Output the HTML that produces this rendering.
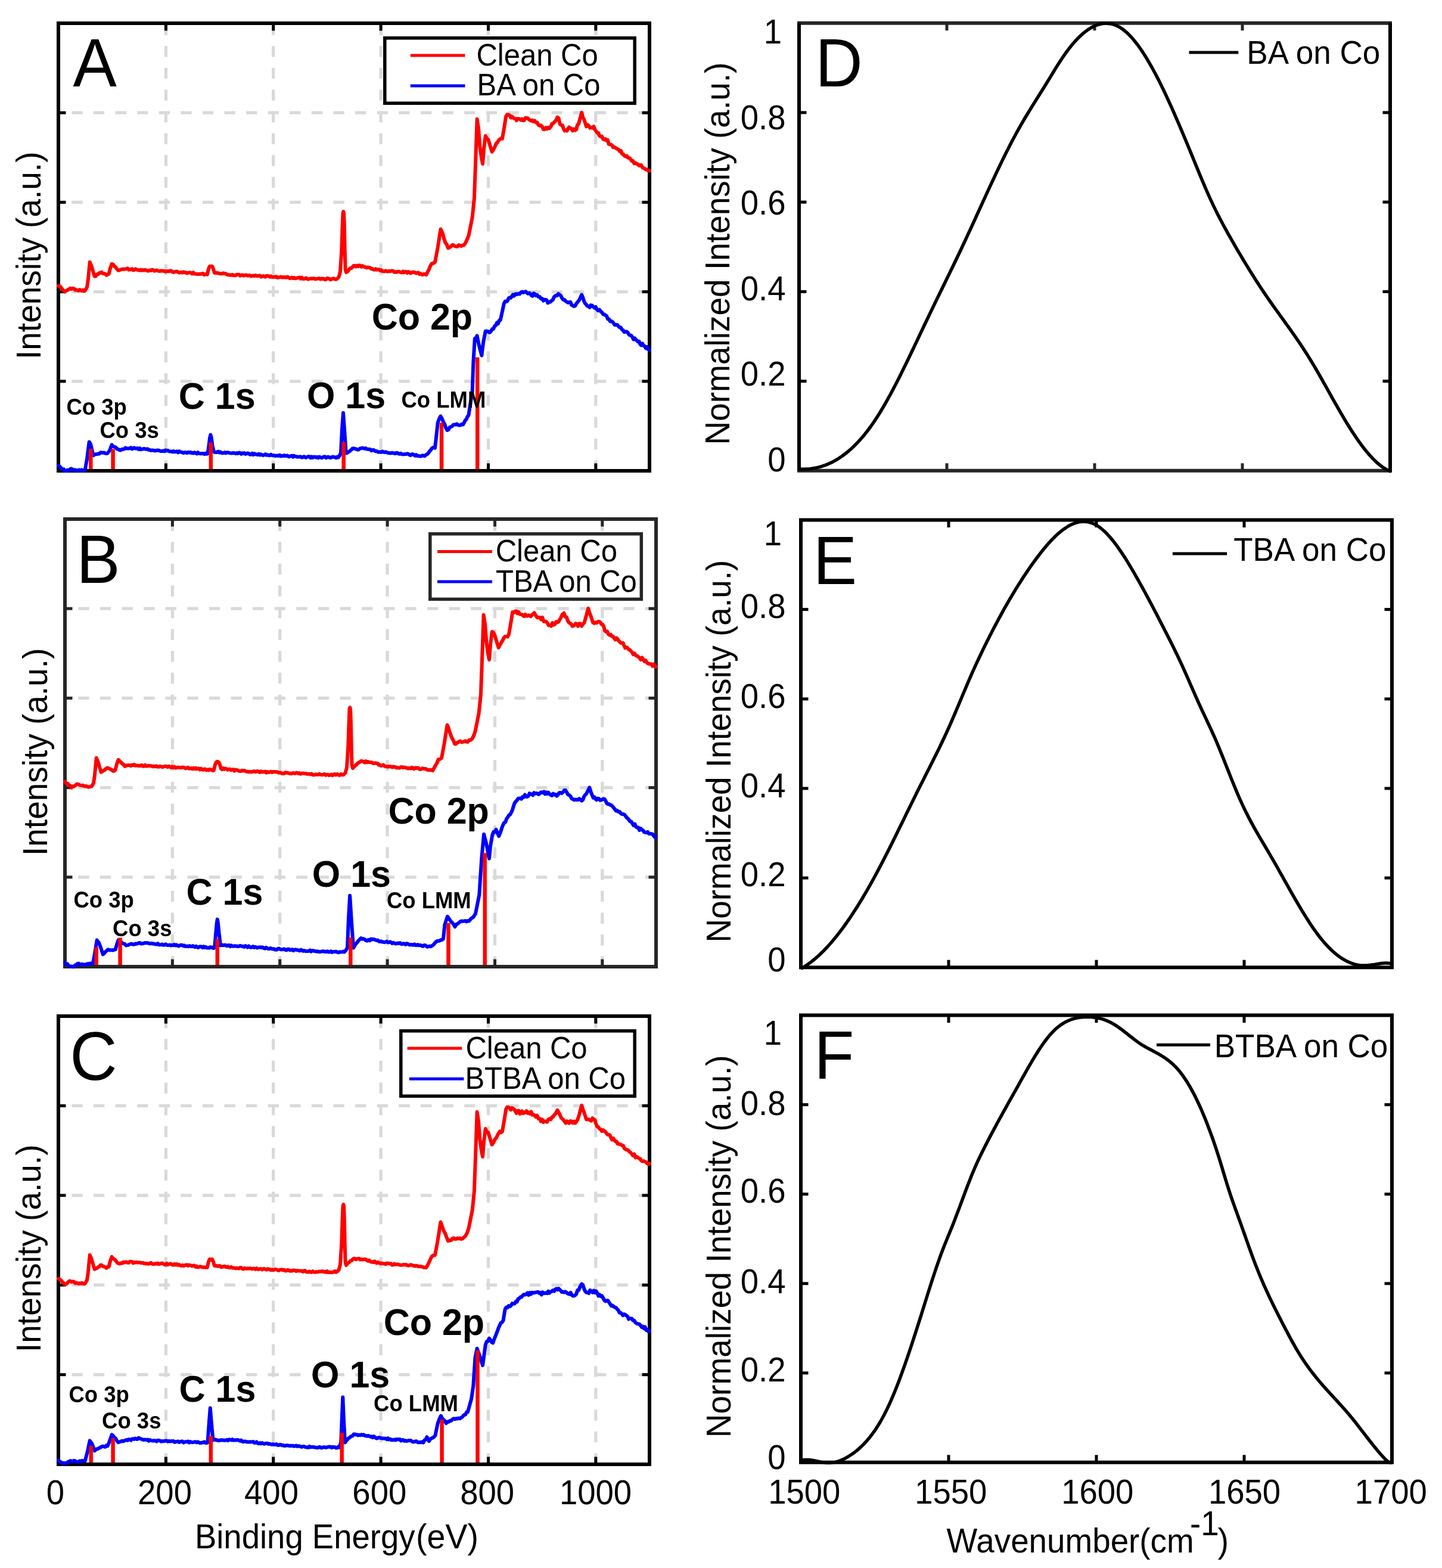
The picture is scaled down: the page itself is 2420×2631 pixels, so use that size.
<!DOCTYPE html>
<html><head><meta charset="utf-8"><title>Figure</title><style>html,body{margin:0;padding:0;background:#fff;}svg{display:block;}</style></head><body>
<svg xmlns="http://www.w3.org/2000/svg" width="2420" height="2631" viewBox="0 0 2420 2631" font-family="'Liberation Sans', Arial, Helvetica, sans-serif">
<rect x="0" y="0" width="2420" height="2631" fill="#fff"/>
<line x1="278.4" y1="39.0" x2="278.4" y2="790.0" stroke="#d9d9d9" stroke-width="5.2" stroke-dasharray="18.3 18.3" stroke-dashoffset="35"/>
<line x1="458.7" y1="39.0" x2="458.7" y2="790.0" stroke="#d9d9d9" stroke-width="5.2" stroke-dasharray="18.3 18.3" stroke-dashoffset="35"/>
<line x1="639.1" y1="39.0" x2="639.1" y2="790.0" stroke="#d9d9d9" stroke-width="5.2" stroke-dasharray="18.3 18.3" stroke-dashoffset="35"/>
<line x1="819.5" y1="39.0" x2="819.5" y2="790.0" stroke="#d9d9d9" stroke-width="5.2" stroke-dasharray="18.3 18.3" stroke-dashoffset="35"/>
<line x1="999.8" y1="39.0" x2="999.8" y2="790.0" stroke="#d9d9d9" stroke-width="5.2" stroke-dasharray="18.3 18.3" stroke-dashoffset="35"/>
<line x1="98.0" y1="189.2" x2="1090.0" y2="189.2" stroke="#d9d9d9" stroke-width="5.2" stroke-dasharray="18.3 18.3" stroke-dashoffset="14.3"/>
<line x1="98.0" y1="339.4" x2="1090.0" y2="339.4" stroke="#d9d9d9" stroke-width="5.2" stroke-dasharray="18.3 18.3" stroke-dashoffset="14.3"/>
<line x1="98.0" y1="489.6" x2="1090.0" y2="489.6" stroke="#d9d9d9" stroke-width="5.2" stroke-dasharray="18.3 18.3" stroke-dashoffset="14.3"/>
<line x1="98.0" y1="639.8" x2="1090.0" y2="639.8" stroke="#d9d9d9" stroke-width="5.2" stroke-dasharray="18.3 18.3" stroke-dashoffset="14.3"/>
<line x1="278.4" y1="39.0" x2="278.4" y2="51.5" stroke="#000" stroke-width="5"/>
<line x1="278.4" y1="790.0" x2="278.4" y2="777.5" stroke="#000" stroke-width="5"/>
<line x1="458.7" y1="39.0" x2="458.7" y2="51.5" stroke="#000" stroke-width="5"/>
<line x1="458.7" y1="790.0" x2="458.7" y2="777.5" stroke="#000" stroke-width="5"/>
<line x1="639.1" y1="39.0" x2="639.1" y2="51.5" stroke="#000" stroke-width="5"/>
<line x1="639.1" y1="790.0" x2="639.1" y2="777.5" stroke="#000" stroke-width="5"/>
<line x1="819.5" y1="39.0" x2="819.5" y2="51.5" stroke="#000" stroke-width="5"/>
<line x1="819.5" y1="790.0" x2="819.5" y2="777.5" stroke="#000" stroke-width="5"/>
<line x1="999.8" y1="39.0" x2="999.8" y2="51.5" stroke="#000" stroke-width="5"/>
<line x1="999.8" y1="790.0" x2="999.8" y2="777.5" stroke="#000" stroke-width="5"/>
<line x1="98.0" y1="189.2" x2="110.5" y2="189.2" stroke="#000" stroke-width="5"/>
<line x1="1090.0" y1="189.2" x2="1077.5" y2="189.2" stroke="#000" stroke-width="5"/>
<line x1="98.0" y1="339.4" x2="110.5" y2="339.4" stroke="#000" stroke-width="5"/>
<line x1="1090.0" y1="339.4" x2="1077.5" y2="339.4" stroke="#000" stroke-width="5"/>
<line x1="98.0" y1="489.6" x2="110.5" y2="489.6" stroke="#000" stroke-width="5"/>
<line x1="1090.0" y1="489.6" x2="1077.5" y2="489.6" stroke="#000" stroke-width="5"/>
<line x1="98.0" y1="639.8" x2="110.5" y2="639.8" stroke="#000" stroke-width="5"/>
<line x1="1090.0" y1="639.8" x2="1077.5" y2="639.8" stroke="#000" stroke-width="5"/>
<rect x="98.0" y="39.0" width="992.0" height="751.0" fill="none" stroke="#000" stroke-width="6"/>
<path d="M98.0,479.6 L100.5,480.4 L103.0,483.0 L105.0,486.0 L107.0,488.0 L109.0,489.6 L110.8,487.8 L112.6,487.2 L114.4,485.9 L116.2,485.2 L118.0,483.6 L120.0,484.9 L122.0,483.8 L124.0,484.2 L126.0,486.7 L128.0,486.3 L130.0,487.0 L131.8,487.7 L133.7,486.0 L135.5,487.1 L137.3,487.9 L139.1,486.8 L141.0,488.6 L142.8,487.6 L146.0,482.0 L147.8,470.0 L150.7,439.8 L153.0,445.0 L154.9,451.2 L156.8,457.5 L158.7,463.7 L160.8,463.4 L162.9,460.1 L165.0,460.0 L166.9,457.7 L168.7,457.9 L170.6,456.7 L172.6,459.1 L174.6,458.9 L176.6,459.7 L178.6,461.7 L180.6,460.5 L182.6,459.7 L185.0,450.0 L187.6,442.8 L189.8,443.6 L192.0,447.0 L194.2,448.5 L196.3,451.4 L198.5,453.8 L200.5,453.4 L202.5,452.3 L204.5,451.9 L206.5,451.5 L208.5,451.7 L210.5,451.4 L212.3,451.0 L214.2,450.3 L216.0,452.6 L217.9,451.9 L219.7,452.3 L221.6,451.2 L223.4,453.4 L225.2,453.1 L227.1,451.3 L228.9,452.0 L230.8,453.1 L232.6,453.1 L234.5,453.8 L236.3,452.6 L238.2,453.8 L240.0,453.0 L241.9,453.5 L243.8,452.7 L245.7,453.5 L247.6,454.4 L249.5,454.4 L251.4,453.6 L253.3,453.9 L255.2,452.6 L257.1,453.2 L259.0,454.7 L260.9,453.8 L262.8,453.3 L264.7,454.4 L266.6,454.8 L268.5,454.9 L270.4,454.2 L272.3,454.4 L274.2,454.7 L276.1,454.8 L278.0,455.7 L279.9,455.1 L281.7,454.9 L283.6,455.3 L285.5,454.2 L287.4,454.4 L289.3,456.2 L291.2,457.0 L293.0,456.1 L294.9,455.8 L296.8,455.3 L298.7,456.3 L300.6,457.6 L302.5,457.2 L304.3,456.7 L306.2,457.7 L308.1,456.2 L310.0,457.0 L311.8,457.2 L313.6,458.5 L315.4,457.7 L317.2,457.6 L319.0,457.3 L320.8,458.2 L322.6,459.4 L324.4,457.2 L326.2,459.3 L328.0,459.6 L329.8,459.9 L331.6,459.7 L333.4,460.1 L335.2,459.5 L337.0,459.8 L338.8,459.6 L340.6,458.9 L342.4,461.1 L344.2,460.5 L346.0,459.8 L347.8,460.7 L350.0,451.0 L352.0,446.8 L354.0,446.8 L356.0,446.8 L358.0,451.0 L359.8,457.7 L361.7,457.9 L363.6,457.8 L365.4,458.0 L367.3,458.7 L369.2,459.1 L371.1,459.3 L372.9,459.2 L374.8,458.3 L376.7,459.0 L378.6,459.1 L380.5,460.4 L382.3,461.3 L384.2,461.3 L386.1,461.5 L388.0,461.8 L389.8,460.7 L391.7,462.3 L393.6,461.7 L395.5,462.2 L397.3,460.8 L399.2,460.7 L401.0,460.8 L402.9,462.7 L404.7,461.6 L406.6,461.3 L408.4,462.6 L410.2,462.0 L412.1,461.4 L413.9,461.7 L415.8,462.7 L417.7,461.9 L419.5,462.2 L421.4,463.4 L423.2,462.8 L425.1,462.6 L426.9,463.0 L428.8,462.0 L430.6,463.0 L432.4,463.1 L434.3,462.7 L436.1,462.5 L438.0,464.5 L439.9,463.7 L441.7,463.0 L443.6,464.1 L445.4,464.6 L447.2,462.8 L449.1,462.9 L450.9,463.3 L452.8,464.7 L454.6,463.4 L456.5,464.8 L458.4,464.9 L460.2,464.5 L462.0,464.7 L463.9,464.0 L465.7,465.9 L467.6,465.6 L469.4,465.0 L471.3,464.4 L473.1,465.5 L475.0,465.0 L476.8,465.5 L478.7,465.0 L480.5,465.8 L482.4,464.5 L484.2,465.2 L486.1,466.9 L487.9,466.8 L489.8,465.5 L491.6,466.9 L493.5,465.7 L495.3,467.3 L497.1,466.9 L499.0,466.2 L500.8,465.9 L502.7,465.4 L504.5,467.6 L506.4,465.7 L508.2,467.7 L510.1,468.1 L511.9,467.2 L513.8,466.4 L515.6,468.1 L517.5,468.5 L519.3,467.9 L521.2,467.6 L523.0,467.3 L524.9,467.4 L526.7,467.1 L528.6,468.3 L530.4,468.0 L532.2,467.8 L534.1,467.3 L535.9,467.1 L537.8,468.4 L539.6,467.5 L541.5,468.0 L543.3,467.6 L545.2,468.9 L547.0,469.0 L548.9,466.8 L550.7,467.3 L552.6,467.6 L554.4,469.2 L556.3,468.7 L558.1,467.6 L560.0,467.3 L561.8,468.4 L563.7,468.8 L565.5,468.0 L568.5,465.0 L571.0,456.0 L573.3,420.0 L574.6,380.0 L575.5,358.0 L576.3,355.0 L577.1,358.0 L577.9,380.0 L578.7,420.0 L579.6,452.0 L581.0,457.0 L583.5,455.6 L586.0,452.0 L587.9,450.0 L589.8,449.9 L591.7,447.9 L593.6,445.8 L595.4,445.9 L597.2,447.4 L599.1,445.5 L600.9,446.9 L602.7,445.3 L604.5,445.7 L606.4,447.8 L608.2,446.1 L610.0,447.0 L611.9,448.2 L613.7,448.2 L615.6,449.3 L617.5,448.5 L619.3,448.9 L621.2,449.2 L623.1,451.2 L624.9,451.0 L626.8,452.4 L628.7,452.7 L630.5,451.2 L632.4,452.7 L634.3,452.0 L636.1,452.3 L638.0,454.0 L639.8,453.0 L641.6,455.2 L643.5,455.1 L645.3,455.4 L647.1,454.2 L648.9,455.1 L650.8,455.6 L652.6,454.7 L654.4,455.3 L656.2,454.6 L658.0,454.3 L659.9,454.9 L661.7,456.7 L663.5,456.0 L665.3,457.0 L667.2,455.9 L669.0,455.6 L670.8,456.3 L672.6,457.1 L674.4,457.3 L676.3,455.4 L678.1,457.2 L679.9,455.8 L681.8,456.0 L683.6,458.0 L685.4,456.0 L687.2,456.6 L689.0,458.6 L690.9,457.3 L692.7,456.6 L694.5,456.8 L696.4,457.1 L698.2,458.5 L700.0,458.0 L701.9,457.4 L703.8,459.8 L705.7,458.8 L707.6,460.7 L709.5,460.9 L711.4,459.7 L713.3,460.0 L715.2,461.0 L717.6,456.4 L720.0,452.0 L722.3,446.1 L724.6,442.3 L727.3,441.6 L730.0,440.0 L732.4,427.5 L734.7,415.0 L737.1,399.8 L739.5,384.5 L741.3,388.0 L743.2,393.1 L745.0,400.0 L747.3,407.0 L749.7,410.1 L752.0,416.2 L753.9,415.6 L755.8,414.2 L757.6,412.8 L759.5,411.0 L761.4,411.5 L763.5,413.1 L765.6,413.5 L767.6,413.8 L769.7,411.2 L771.8,411.8 L773.9,413.0 L776.3,411.7 L778.6,411.2 L781.0,408.0 L783.7,402.0 L786.4,395.8 L788.5,385.3 L790.6,374.9 L792.7,364.4 L795.9,333.0 L798.4,264.0 L800.6,199.8 L803.0,215.0 L805.3,245.3 L808.0,265.0 L810.0,275.0 L812.0,250.0 L814.7,228.0 L817.0,232.3 L819.4,234.3 L821.5,241.1 L823.5,247.9 L825.6,254.7 L828.3,250.8 L831.0,245.0 L832.9,240.5 L834.7,239.2 L836.6,235.9 L838.7,233.7 L840.8,232.2 L842.9,232.7 L846.0,215.0 L849.2,195.1 L851.3,192.1 L853.3,192.7 L855.4,193.5 L857.3,197.5 L859.2,195.4 L861.2,197.7 L863.1,198.8 L865.0,199.0 L866.8,202.1 L868.7,199.3 L870.5,199.3 L872.4,199.9 L874.2,201.4 L876.1,199.7 L878.0,202.2 L879.9,201.8 L881.8,197.7 L883.7,198.2 L885.6,198.2 L887.5,200.4 L889.4,201.6 L891.2,202.6 L893.1,201.5 L895.0,204.0 L897.1,202.5 L899.2,205.2 L901.4,205.5 L903.5,209.7 L905.6,210.8 L907.7,210.3 L909.8,212.4 L911.9,217.0 L914.0,217.0 L916.1,214.2 L918.1,216.4 L920.2,213.8 L922.3,215.3 L924.4,212.3 L926.3,207.8 L928.1,207.4 L930.0,205.0 L932.7,202.6 L935.4,196.7 L937.6,198.6 L939.8,208.3 L942.0,210.0 L943.9,210.2 L945.8,216.0 L947.6,219.4 L949.5,218.6 L951.4,219.6 L953.2,215.7 L955.1,213.5 L957.0,215.0 L959.0,216.0 L961.1,219.3 L963.2,216.5 L965.2,218.6 L967.1,217.4 L969.1,209.4 L971.0,208.0 L973.6,198.4 L976.2,188.8 L978.1,196.9 L980.0,200.0 L982.0,206.2 L984.0,212.3 L986.1,209.5 L988.2,211.2 L990.2,214.7 L992.3,214.1 L994.4,214.7 L996.5,212.3 L998.4,217.5 L1000.3,220.1 L1002.2,222.9 L1004.1,222.9 L1006.0,228.0 L1008.0,228.9 L1010.0,228.6 L1012.0,233.3 L1014.0,234.3 L1016.0,233.2 L1018.0,236.0 L1019.9,234.9 L1021.7,241.9 L1023.6,242.5 L1025.4,242.5 L1027.3,244.0 L1029.1,247.3 L1031.0,246.8 L1032.8,248.0 L1034.6,249.1 L1036.4,250.2 L1038.2,251.2 L1040.0,254.0 L1042.0,253.0 L1043.9,258.2 L1045.9,258.6 L1047.8,261.2 L1049.8,262.5 L1051.8,261.5 L1053.9,264.7 L1055.9,265.0 L1058.0,266.4 L1060.0,270.0 L1062.2,269.9 L1064.3,274.3 L1066.5,273.2 L1068.7,275.0 L1070.6,275.6 L1072.5,277.9 L1074.3,277.1 L1076.2,277.0 L1078.1,281.0 L1080.0,282.0 L1082.0,282.9 L1084.0,284.6 L1086.0,284.4 L1088.0,286.6 L1090.0,286.5" fill="none" stroke="#ff0000" stroke-width="6" stroke-linejoin="round" stroke-linecap="round"/>
<path d="M98.0,781.2 L100.5,783.0 L103.0,786.0 L105.0,787.1 L107.0,787.3 L109.0,789.9 L111.0,790.2 L112.8,788.8 L114.6,788.8 L116.4,789.0 L118.2,787.0 L120.0,786.5 L122.0,788.2 L124.0,788.3 L126.0,788.5 L128.0,789.0 L129.8,789.2 L131.7,789.0 L133.6,788.4 L135.4,789.8 L137.2,788.3 L139.1,789.6 L141.0,789.1 L142.8,788.2 L146.0,770.0 L147.8,755.7 L149.7,741.4 L152.0,745.0 L154.3,754.6 L156.7,764.3 L158.8,762.4 L160.9,762.2 L163.0,762.0 L164.9,761.3 L166.8,761.4 L168.7,759.2 L170.6,759.3 L172.6,759.8 L174.6,759.4 L176.6,760.6 L178.6,761.1 L180.6,760.3 L184.0,756.0 L187.6,746.4 L189.8,748.9 L192.0,750.0 L194.1,750.5 L196.2,753.3 L198.4,753.8 L200.5,755.3 L202.5,755.4 L204.5,753.7 L206.5,754.0 L208.5,753.4 L210.5,751.4 L212.3,752.4 L214.2,752.5 L216.0,752.6 L217.9,752.2 L219.7,751.2 L221.6,753.4 L223.4,752.2 L225.2,751.2 L227.1,752.4 L228.9,752.5 L230.8,752.1 L232.6,754.1 L234.5,752.1 L236.3,754.3 L238.2,753.5 L240.0,753.5 L241.9,752.8 L243.8,753.5 L245.7,753.8 L247.6,753.2 L249.5,754.9 L251.4,754.8 L253.3,755.8 L255.2,755.6 L257.1,755.6 L259.0,756.3 L260.9,756.3 L262.8,755.7 L264.7,755.6 L266.6,755.7 L268.5,756.6 L270.4,757.1 L272.3,757.0 L274.2,756.3 L276.1,757.3 L278.0,755.4 L279.9,756.5 L281.7,755.8 L283.6,757.2 L285.5,757.4 L287.4,757.4 L289.3,758.3 L291.2,756.9 L293.0,758.3 L294.9,758.1 L296.8,757.3 L298.7,759.3 L300.6,757.2 L302.5,758.3 L304.3,758.7 L306.2,759.0 L308.1,760.1 L310.0,759.0 L311.8,759.2 L313.7,760.2 L315.5,758.8 L317.3,759.4 L319.2,758.7 L321.0,760.0 L322.8,759.6 L324.7,760.6 L326.5,759.0 L328.3,760.0 L330.2,761.3 L332.0,759.1 L333.8,760.8 L335.7,761.0 L337.5,761.2 L339.3,760.9 L341.2,760.9 L343.0,762.1 L344.8,760.6 L346.7,761.7 L348.5,761.3 L350.5,748.0 L352.0,735.0 L353.4,729.5 L354.8,735.0 L356.5,748.0 L359.0,758.3 L360.8,758.8 L362.6,759.1 L364.5,758.6 L366.3,757.5 L368.1,759.5 L369.9,758.4 L371.7,759.7 L373.6,760.3 L375.4,759.9 L377.2,759.1 L379.0,760.3 L380.9,759.3 L382.7,759.2 L384.5,759.9 L386.3,760.3 L388.1,760.4 L390.0,760.2 L391.8,760.0 L393.6,760.3 L395.5,761.0 L397.3,760.1 L399.2,760.9 L401.0,759.5 L402.9,759.9 L404.7,761.8 L406.6,760.3 L408.4,760.9 L410.2,760.1 L412.1,762.0 L413.9,761.0 L415.8,760.4 L417.7,761.1 L419.5,762.8 L421.4,762.5 L423.2,760.7 L425.1,763.2 L426.9,761.1 L428.8,762.2 L430.6,762.4 L432.4,763.1 L434.3,761.7 L436.1,763.5 L438.0,762.2 L439.9,763.4 L441.7,764.0 L443.6,763.3 L445.4,762.0 L447.2,763.7 L449.1,763.2 L450.9,764.0 L452.8,764.3 L454.6,762.7 L456.5,764.0 L458.4,764.2 L460.2,764.0 L462.0,765.1 L463.9,764.5 L465.7,764.6 L467.6,765.0 L469.4,763.6 L471.3,765.4 L473.1,764.8 L475.0,765.1 L476.8,764.0 L478.7,765.0 L480.5,764.8 L482.4,764.4 L484.2,766.3 L486.1,766.1 L487.9,765.3 L489.8,764.5 L491.6,766.7 L493.5,764.7 L495.3,765.8 L497.1,766.0 L499.0,766.8 L500.8,766.4 L502.7,766.4 L504.5,766.2 L506.4,767.5 L508.2,767.2 L510.1,766.1 L511.9,767.3 L513.8,767.7 L515.6,766.7 L517.5,765.9 L519.3,765.9 L521.2,768.2 L523.0,766.4 L524.9,768.0 L526.7,766.6 L528.6,766.7 L530.4,767.5 L532.3,766.7 L534.1,768.3 L536.0,766.5 L537.9,767.4 L539.8,768.2 L541.6,767.6 L543.5,766.3 L545.4,766.3 L547.2,768.3 L549.1,767.0 L551.0,766.5 L552.8,767.6 L554.7,768.2 L556.6,767.0 L558.4,766.6 L560.3,766.7 L562.2,767.4 L564.1,768.2 L565.9,766.5 L567.8,767.5 L569.9,764.4 L572.0,760.0 L574.0,720.0 L576.0,692.7 L578.0,720.0 L580.7,760.5 L582.8,759.8 L584.9,758.3 L587.0,757.0 L589.2,755.1 L591.4,752.7 L593.6,752.3 L595.7,753.0 L597.9,753.5 L600.0,754.5 L602.0,754.5 L604.0,752.5 L606.0,752.3 L608.0,751.5 L610.0,752.3 L611.9,752.7 L613.7,752.0 L615.6,753.6 L617.5,753.7 L619.3,753.8 L621.2,753.9 L623.1,756.1 L624.9,755.4 L626.8,754.8 L628.7,756.4 L630.5,757.3 L632.4,757.0 L634.3,758.4 L636.1,758.6 L638.0,758.2 L639.8,758.8 L641.7,757.4 L643.5,758.5 L645.3,758.9 L647.1,758.2 L649.0,759.2 L650.8,759.8 L652.6,760.1 L654.4,760.3 L656.3,760.5 L658.1,759.5 L659.9,760.5 L661.7,760.4 L663.6,761.1 L665.4,759.7 L667.2,760.0 L669.0,761.5 L670.9,761.7 L672.7,760.7 L674.5,762.2 L676.3,762.3 L678.2,762.2 L680.0,762.0 L681.8,762.1 L683.7,761.3 L685.5,761.9 L687.3,763.4 L689.1,763.9 L691.0,762.3 L692.8,762.1 L694.6,763.1 L696.5,764.7 L698.3,763.1 L700.1,765.0 L701.9,764.8 L703.8,765.1 L705.6,765.7 L707.4,765.1 L709.2,764.1 L711.1,764.9 L712.9,765.2 L714.9,763.2 L717.0,762.1 L719.0,760.0 L720.9,757.1 L722.7,755.5 L724.6,752.3 L727.3,750.8 L730.0,751.7 L732.4,730.5 L734.7,709.3 L737.0,703.0 L739.4,698.4 L741.7,702.3 L744.0,708.0 L746.1,711.6 L748.3,718.0 L750.4,721.9 L752.6,721.0 L754.8,716.8 L757.0,716.0 L758.9,715.1 L760.8,712.8 L762.6,712.6 L764.5,712.5 L766.6,711.4 L768.7,713.1 L770.8,713.5 L772.8,713.5 L774.9,711.8 L777.0,712.5 L778.9,709.1 L780.8,705.4 L782.6,703.6 L784.5,699.1 L786.4,696.8 L788.5,683.2 L790.6,669.6 L792.7,656.0 L794.3,609.0 L796.8,568.2 L798.7,567.1 L800.6,563.5 L804.0,580.0 L806.2,588.2 L808.4,596.5 L811.0,575.0 L812.9,565.4 L814.7,555.7 L816.6,555.6 L818.4,555.9 L820.3,557.5 L822.1,557.8 L824.0,555.7 L826.0,552.1 L828.0,552.0 L830.0,547.3 L832.0,546.0 L834.0,541.3 L835.9,543.2 L837.8,537.6 L839.8,536.9 L841.9,527.5 L843.9,518.1 L846.0,508.7 L847.9,505.6 L849.8,506.1 L851.6,505.0 L853.5,500.6 L855.4,499.3 L857.2,499.8 L859.0,497.2 L860.8,494.3 L862.6,496.6 L864.4,493.7 L866.2,493.1 L868.0,494.0 L870.1,492.8 L872.2,493.4 L874.2,490.3 L876.3,489.6 L878.4,490.9 L880.5,489.8 L882.4,489.2 L884.3,491.4 L886.2,492.7 L888.1,491.3 L890.0,493.0 L891.9,495.9 L893.7,496.8 L895.6,492.2 L897.4,493.0 L899.3,496.0 L901.4,494.8 L903.6,498.0 L905.7,497.9 L907.9,501.3 L910.0,501.0 L911.9,504.7 L913.8,502.7 L915.6,502.7 L917.5,503.5 L919.4,508.3 L921.3,507.0 L923.5,506.5 L925.6,504.6 L927.8,503.0 L930.0,498.0 L932.3,496.1 L934.7,496.1 L937.0,493.0 L939.0,494.4 L941.0,495.7 L943.0,500.0 L945.2,502.9 L947.3,503.0 L949.5,505.5 L951.5,506.7 L953.4,507.8 L955.4,507.1 L957.4,506.8 L959.3,511.8 L961.3,512.8 L963.2,513.9 L965.2,513.4 L967.1,509.7 L969.1,506.9 L971.0,505.0 L973.6,500.5 L976.2,494.5 L978.1,499.0 L980.0,505.0 L981.9,509.1 L983.7,510.7 L985.6,513.4 L987.6,513.8 L989.6,515.8 L991.6,512.0 L993.7,512.7 L995.7,514.7 L997.7,516.7 L999.7,515.0 L1001.8,519.3 L1003.9,521.2 L1006.0,519.6 L1008.0,522.4 L1010.1,524.1 L1012.2,527.5 L1014.2,527.6 L1016.2,528.9 L1018.1,530.4 L1020.1,535.4 L1022.1,535.4 L1024.0,539.3 L1026.0,539.1 L1028.0,540.0 L1030.0,542.9 L1031.9,545.3 L1033.8,545.0 L1035.8,544.9 L1037.8,547.4 L1039.7,549.2 L1041.6,549.3 L1043.6,552.6 L1045.7,554.4 L1047.7,557.1 L1049.8,556.5 L1051.9,556.6 L1053.9,558.5 L1056.0,562.0 L1057.8,562.7 L1059.6,563.2 L1061.4,565.9 L1063.3,569.6 L1065.1,567.4 L1066.9,569.4 L1068.7,571.4 L1070.6,573.3 L1072.5,572.7 L1074.3,577.4 L1076.2,579.4 L1078.1,576.3 L1080.0,580.0 L1082.0,581.0 L1084.0,584.4 L1086.0,582.3 L1088.0,586.3 L1090.0,587.5" fill="none" stroke="#0000ff" stroke-width="6" stroke-linejoin="round" stroke-linecap="round"/>
<line x1="152.3" y1="753.4" x2="152.3" y2="787.0" stroke="#ff0000" stroke-width="6.5"/>
<line x1="189.6" y1="753.4" x2="189.6" y2="787.0" stroke="#ff0000" stroke-width="6.5"/>
<line x1="353.8" y1="742.4" x2="353.8" y2="787.0" stroke="#ff0000" stroke-width="6.5"/>
<line x1="576.7" y1="741.8" x2="576.7" y2="787.0" stroke="#ff0000" stroke-width="6.5"/>
<line x1="741.0" y1="709.3" x2="741.0" y2="787.0" stroke="#ff0000" stroke-width="6.5"/>
<line x1="801.2" y1="599.6" x2="801.2" y2="787.0" stroke="#ff0000" stroke-width="6.5"/>
<rect x="645.8" y="63.8" width="419.4" height="109.4" fill="#fff" stroke="#000" stroke-width="5.5"/>
<line x1="688.8" y1="93" x2="780.5" y2="93" stroke="#ff0000" stroke-width="5"/>
<line x1="688.8" y1="143.9" x2="780.5" y2="143.9" stroke="#0000ff" stroke-width="5"/>
<text transform="translate(799.5,109.8) scale(1,1.04)" font-size="49" fill="#000">Clean Co</text>
<text transform="translate(800.5,160.3) scale(1,1.04)" font-size="49" fill="#000">BA on Co</text>
<text transform="translate(111.4,695.6) scale(1,1.04)" font-size="36.5" font-weight="bold" fill="#000">Co 3p</text>
<text transform="translate(167.5,734.5) scale(1,1.04)" font-size="36.5" font-weight="bold" fill="#000">Co 3s</text>
<text transform="translate(299.8,685.8) scale(1,1.04)" font-size="61" font-weight="bold" fill="#000">C 1s</text>
<text transform="translate(514.9,685.2) scale(1,1.04)" font-size="61" font-weight="bold" fill="#000">O 1s</text>
<text transform="translate(673.5,684.3) scale(1,1.04)" font-size="36.5" font-weight="bold" fill="#000">Co LMM</text>
<text transform="translate(623.7,552.6) scale(1,1.04)" font-size="61" font-weight="bold" fill="#000">Co 2p</text>
<text transform="translate(122.6,145.0) scale(1,1.04)" font-size="110" fill="#000">A</text>
<line x1="289.4" y1="871.0" x2="289.4" y2="1622.0" stroke="#d9d9d9" stroke-width="5.2" stroke-dasharray="18.3 18.3" stroke-dashoffset="35"/>
<line x1="469.7" y1="871.0" x2="469.7" y2="1622.0" stroke="#d9d9d9" stroke-width="5.2" stroke-dasharray="18.3 18.3" stroke-dashoffset="35"/>
<line x1="650.1" y1="871.0" x2="650.1" y2="1622.0" stroke="#d9d9d9" stroke-width="5.2" stroke-dasharray="18.3 18.3" stroke-dashoffset="35"/>
<line x1="830.5" y1="871.0" x2="830.5" y2="1622.0" stroke="#d9d9d9" stroke-width="5.2" stroke-dasharray="18.3 18.3" stroke-dashoffset="35"/>
<line x1="1010.8" y1="871.0" x2="1010.8" y2="1622.0" stroke="#d9d9d9" stroke-width="5.2" stroke-dasharray="18.3 18.3" stroke-dashoffset="35"/>
<line x1="109.0" y1="1021.2" x2="1101.0" y2="1021.2" stroke="#d9d9d9" stroke-width="5.2" stroke-dasharray="18.3 18.3" stroke-dashoffset="14.3"/>
<line x1="109.0" y1="1171.4" x2="1101.0" y2="1171.4" stroke="#d9d9d9" stroke-width="5.2" stroke-dasharray="18.3 18.3" stroke-dashoffset="14.3"/>
<line x1="109.0" y1="1321.6" x2="1101.0" y2="1321.6" stroke="#d9d9d9" stroke-width="5.2" stroke-dasharray="18.3 18.3" stroke-dashoffset="14.3"/>
<line x1="109.0" y1="1471.8" x2="1101.0" y2="1471.8" stroke="#d9d9d9" stroke-width="5.2" stroke-dasharray="18.3 18.3" stroke-dashoffset="14.3"/>
<line x1="289.4" y1="871.0" x2="289.4" y2="883.5" stroke="#262626" stroke-width="5"/>
<line x1="289.4" y1="1622.0" x2="289.4" y2="1609.5" stroke="#262626" stroke-width="5"/>
<line x1="469.7" y1="871.0" x2="469.7" y2="883.5" stroke="#262626" stroke-width="5"/>
<line x1="469.7" y1="1622.0" x2="469.7" y2="1609.5" stroke="#262626" stroke-width="5"/>
<line x1="650.1" y1="871.0" x2="650.1" y2="883.5" stroke="#262626" stroke-width="5"/>
<line x1="650.1" y1="1622.0" x2="650.1" y2="1609.5" stroke="#262626" stroke-width="5"/>
<line x1="830.5" y1="871.0" x2="830.5" y2="883.5" stroke="#262626" stroke-width="5"/>
<line x1="830.5" y1="1622.0" x2="830.5" y2="1609.5" stroke="#262626" stroke-width="5"/>
<line x1="1010.8" y1="871.0" x2="1010.8" y2="883.5" stroke="#262626" stroke-width="5"/>
<line x1="1010.8" y1="1622.0" x2="1010.8" y2="1609.5" stroke="#262626" stroke-width="5"/>
<line x1="109.0" y1="1021.2" x2="121.5" y2="1021.2" stroke="#262626" stroke-width="5"/>
<line x1="1101.0" y1="1021.2" x2="1088.5" y2="1021.2" stroke="#262626" stroke-width="5"/>
<line x1="109.0" y1="1171.4" x2="121.5" y2="1171.4" stroke="#262626" stroke-width="5"/>
<line x1="1101.0" y1="1171.4" x2="1088.5" y2="1171.4" stroke="#262626" stroke-width="5"/>
<line x1="109.0" y1="1321.6" x2="121.5" y2="1321.6" stroke="#262626" stroke-width="5"/>
<line x1="1101.0" y1="1321.6" x2="1088.5" y2="1321.6" stroke="#262626" stroke-width="5"/>
<line x1="109.0" y1="1471.8" x2="121.5" y2="1471.8" stroke="#262626" stroke-width="5"/>
<line x1="1101.0" y1="1471.8" x2="1088.5" y2="1471.8" stroke="#262626" stroke-width="5"/>
<rect x="109.0" y="871.0" width="992.0" height="751.0" fill="none" stroke="#262626" stroke-width="6"/>
<path d="M109.0,1311.6 L111.5,1314.4 L114.0,1315.0 L116.0,1318.3 L118.0,1318.3 L120.0,1321.6 L121.8,1319.4 L123.6,1320.0 L125.4,1318.6 L127.2,1317.2 L129.0,1315.6 L131.0,1315.7 L133.0,1317.0 L135.0,1317.6 L137.0,1318.1 L139.0,1317.6 L141.0,1319.0 L142.8,1318.9 L144.7,1318.9 L146.5,1319.8 L148.3,1320.5 L150.1,1320.5 L152.0,1319.6 L153.8,1319.6 L157.0,1314.0 L158.8,1302.0 L161.7,1271.8 L164.0,1277.0 L165.9,1283.2 L167.8,1289.5 L169.7,1295.7 L171.8,1294.3 L173.9,1292.7 L176.0,1292.0 L177.9,1289.7 L179.7,1288.6 L181.6,1288.7 L183.6,1289.9 L185.6,1290.7 L187.6,1292.2 L189.6,1293.7 L191.6,1293.7 L193.6,1291.7 L196.0,1282.0 L198.6,1274.8 L200.8,1277.0 L203.0,1279.0 L205.2,1281.4 L207.3,1282.8 L209.5,1285.8 L211.5,1284.2 L213.5,1284.5 L215.5,1283.7 L217.5,1284.2 L219.5,1285.1 L221.5,1283.4 L223.3,1284.0 L225.2,1282.8 L227.0,1284.7 L228.9,1284.6 L230.7,1284.5 L232.6,1285.1 L234.4,1284.8 L236.2,1285.0 L238.1,1283.9 L239.9,1285.7 L241.8,1285.7 L243.6,1283.7 L245.5,1285.4 L247.3,1285.4 L249.2,1284.8 L251.0,1285.0 L252.9,1285.2 L254.8,1285.2 L256.7,1286.4 L258.6,1285.4 L260.5,1286.3 L262.4,1285.2 L264.3,1286.6 L266.2,1286.8 L268.1,1285.7 L270.0,1286.1 L271.9,1287.1 L273.8,1286.7 L275.7,1286.2 L277.6,1285.6 L279.5,1286.0 L281.4,1287.0 L283.3,1285.7 L285.2,1286.7 L287.1,1287.9 L289.0,1286.3 L290.9,1288.1 L292.7,1286.7 L294.6,1288.5 L296.5,1288.0 L298.4,1287.6 L300.3,1287.7 L302.2,1288.2 L304.0,1288.1 L305.9,1287.6 L307.8,1287.4 L309.7,1288.3 L311.6,1289.5 L313.5,1288.8 L315.3,1287.6 L317.2,1289.6 L319.1,1289.5 L321.0,1289.0 L322.8,1290.2 L324.6,1288.6 L326.4,1290.1 L328.2,1288.6 L330.0,1290.3 L331.8,1289.5 L333.6,1289.5 L335.4,1291.4 L337.2,1289.6 L339.0,1290.8 L340.8,1291.8 L342.6,1290.5 L344.4,1290.6 L346.2,1292.4 L348.0,1291.5 L349.8,1292.4 L351.6,1290.8 L353.4,1291.8 L355.2,1291.5 L357.0,1293.0 L358.8,1292.7 L361.0,1283.0 L363.0,1278.8 L365.0,1277.7 L367.0,1278.8 L369.0,1283.0 L370.8,1289.7 L372.7,1291.1 L374.6,1289.0 L376.4,1290.9 L378.3,1289.4 L380.2,1290.2 L382.1,1291.8 L383.9,1290.4 L385.8,1290.7 L387.7,1292.2 L389.6,1291.6 L391.5,1291.0 L393.3,1293.6 L395.2,1291.7 L397.1,1291.7 L399.0,1292.6 L400.8,1293.5 L402.7,1294.1 L404.6,1293.7 L406.5,1292.8 L408.3,1293.5 L410.2,1292.8 L412.0,1293.9 L413.9,1294.7 L415.7,1294.8 L417.6,1295.2 L419.4,1294.9 L421.2,1295.3 L423.1,1295.0 L424.9,1294.5 L426.8,1294.0 L428.7,1295.1 L430.5,1294.3 L432.4,1293.9 L434.2,1294.8 L436.1,1295.9 L437.9,1294.2 L439.8,1295.4 L441.6,1295.0 L443.4,1295.4 L445.3,1294.5 L447.1,1296.6 L449.0,1295.0 L450.9,1295.9 L452.7,1295.5 L454.6,1294.6 L456.4,1296.0 L458.2,1295.1 L460.1,1295.0 L461.9,1295.0 L463.8,1295.4 L465.6,1295.3 L467.5,1296.7 L469.4,1296.4 L471.2,1296.5 L473.0,1297.8 L474.9,1297.7 L476.7,1298.0 L478.6,1296.2 L480.4,1296.8 L482.3,1296.5 L484.1,1297.4 L486.0,1297.5 L487.8,1298.0 L489.7,1297.9 L491.5,1296.9 L493.4,1297.4 L495.2,1297.8 L497.1,1296.6 L498.9,1296.8 L500.8,1297.8 L502.6,1297.1 L504.5,1298.7 L506.3,1297.6 L508.1,1297.4 L510.0,1297.7 L511.8,1297.9 L513.7,1297.9 L515.5,1298.8 L517.4,1298.7 L519.2,1298.4 L521.1,1299.3 L522.9,1298.4 L524.8,1300.1 L526.6,1300.4 L528.5,1299.9 L530.3,1299.3 L532.2,1299.6 L534.0,1299.8 L535.9,1298.6 L537.7,1299.6 L539.6,1300.0 L541.4,1300.0 L543.2,1299.2 L545.1,1299.0 L546.9,1300.7 L548.8,1299.7 L550.6,1300.0 L552.5,1301.0 L554.3,1300.3 L556.2,1299.5 L558.0,1301.2 L559.9,1299.7 L561.7,1298.8 L563.6,1300.4 L565.4,1299.0 L567.3,1299.5 L569.1,1300.8 L571.0,1300.4 L572.8,1298.8 L574.7,1299.9 L576.5,1300.0 L579.5,1297.0 L582.0,1288.0 L584.3,1252.0 L585.6,1212.0 L586.5,1190.0 L587.3,1187.0 L588.1,1190.0 L588.9,1212.0 L589.7,1252.0 L590.6,1284.0 L592.0,1289.0 L594.5,1286.3 L597.0,1284.0 L598.9,1282.4 L600.8,1280.1 L602.7,1279.6 L604.6,1277.8 L606.4,1276.8 L608.2,1277.5 L610.1,1277.9 L611.9,1279.5 L613.7,1277.3 L615.5,1279.3 L617.4,1277.9 L619.2,1279.1 L621.0,1279.0 L622.9,1279.2 L624.7,1279.8 L626.6,1281.1 L628.5,1280.6 L630.3,1280.3 L632.2,1280.8 L634.1,1281.2 L635.9,1283.7 L637.8,1283.6 L639.7,1284.9 L641.5,1284.6 L643.4,1283.4 L645.3,1285.5 L647.1,1286.2 L649.0,1286.0 L650.8,1286.7 L652.6,1286.3 L654.5,1286.0 L656.3,1286.4 L658.1,1287.4 L659.9,1286.2 L661.8,1287.0 L663.6,1287.0 L665.4,1288.3 L667.2,1288.1 L669.0,1288.5 L670.9,1288.4 L672.7,1287.1 L674.5,1287.1 L676.3,1287.9 L678.2,1287.4 L680.0,1288.0 L681.8,1288.3 L683.6,1288.9 L685.4,1289.6 L687.3,1288.8 L689.1,1289.5 L690.9,1287.8 L692.8,1288.6 L694.6,1290.3 L696.4,1288.3 L698.2,1289.0 L700.0,1288.3 L701.9,1288.4 L703.7,1290.6 L705.5,1290.9 L707.4,1290.2 L709.2,1289.0 L711.0,1290.0 L712.9,1289.9 L714.8,1290.1 L716.7,1291.6 L718.6,1292.0 L720.5,1291.7 L722.4,1292.3 L724.3,1291.7 L726.2,1293.0 L728.6,1288.6 L731.0,1284.0 L733.3,1280.4 L735.6,1274.3 L738.3,1273.9 L741.0,1272.0 L743.4,1259.5 L745.7,1247.0 L748.1,1231.8 L750.5,1216.5 L752.3,1220.2 L754.2,1226.9 L756.0,1232.0 L758.3,1238.1 L760.7,1242.0 L763.0,1248.2 L764.9,1248.5 L766.8,1246.2 L768.6,1246.0 L770.5,1244.1 L772.4,1243.5 L774.5,1245.4 L776.6,1244.9 L778.6,1244.5 L780.7,1243.3 L782.8,1244.6 L784.9,1245.0 L787.3,1241.8 L789.6,1242.0 L792.0,1240.0 L794.7,1235.2 L797.4,1227.8 L799.5,1217.3 L801.6,1206.9 L803.7,1196.4 L806.9,1165.0 L809.4,1096.0 L811.6,1031.8 L814.0,1047.0 L816.3,1077.3 L819.0,1097.0 L821.0,1107.0 L823.0,1082.0 L825.7,1060.0 L828.0,1061.2 L830.4,1066.3 L832.5,1073.1 L834.5,1079.9 L836.6,1086.7 L839.3,1081.9 L842.0,1077.0 L843.9,1073.9 L845.7,1070.4 L847.6,1067.9 L849.7,1068.1 L851.8,1068.4 L853.9,1064.7 L857.0,1047.0 L860.2,1027.1 L862.3,1027.8 L864.3,1025.9 L866.4,1025.5 L868.3,1029.4 L870.2,1026.7 L872.2,1030.3 L874.1,1030.9 L876.0,1031.0 L877.8,1033.0 L879.7,1034.1 L881.5,1030.8 L883.4,1033.6 L885.2,1033.4 L887.1,1032.2 L889.0,1033.1 L890.9,1034.3 L892.8,1031.6 L894.7,1030.2 L896.6,1028.2 L898.5,1031.9 L900.4,1034.4 L902.2,1036.4 L904.1,1035.9 L906.0,1036.0 L908.1,1039.3 L910.2,1035.8 L912.4,1042.7 L914.5,1042.8 L916.6,1042.8 L918.7,1045.5 L920.8,1049.4 L922.9,1049.0 L925.0,1050.5 L927.1,1045.0 L929.1,1048.5 L931.2,1047.5 L933.3,1043.3 L935.4,1044.3 L937.3,1043.3 L939.1,1040.0 L941.0,1037.0 L943.7,1031.0 L946.4,1028.7 L948.6,1035.0 L950.8,1035.4 L953.0,1042.0 L954.9,1044.8 L956.8,1045.9 L958.6,1047.0 L960.5,1050.6 L962.4,1050.1 L964.2,1048.6 L966.1,1046.1 L968.0,1047.0 L970.0,1050.7 L972.1,1046.2 L974.2,1046.7 L976.2,1050.6 L978.1,1047.0 L980.1,1045.6 L982.0,1040.0 L984.6,1030.4 L987.2,1020.8 L989.1,1027.4 L991.0,1032.0 L993.0,1038.2 L995.0,1044.3 L997.1,1045.8 L999.2,1044.2 L1001.2,1045.3 L1003.3,1043.3 L1005.4,1042.9 L1007.5,1044.3 L1009.4,1047.5 L1011.3,1047.7 L1013.2,1051.2 L1015.1,1058.4 L1017.0,1060.0 L1019.0,1059.4 L1021.0,1064.2 L1023.0,1065.7 L1025.0,1064.8 L1027.0,1067.7 L1029.0,1068.0 L1030.9,1071.3 L1032.7,1073.3 L1034.6,1070.4 L1036.4,1072.2 L1038.3,1075.0 L1040.1,1077.0 L1042.0,1078.8 L1043.8,1079.0 L1045.6,1078.8 L1047.4,1083.5 L1049.2,1087.3 L1051.0,1086.0 L1053.0,1086.9 L1054.9,1089.6 L1056.9,1090.4 L1058.8,1092.5 L1060.8,1094.5 L1062.8,1098.1 L1064.9,1096.4 L1066.9,1099.8 L1069.0,1100.4 L1071.0,1102.0 L1073.2,1103.5 L1075.3,1106.8 L1077.5,1103.4 L1079.7,1107.0 L1081.6,1109.9 L1083.5,1108.3 L1085.3,1111.3 L1087.2,1113.3 L1089.1,1113.7 L1091.0,1114.0 L1093.0,1114.3 L1095.0,1117.6 L1097.0,1114.5 L1099.0,1118.3 L1101.0,1118.5" fill="none" stroke="#ff0000" stroke-width="6" stroke-linejoin="round" stroke-linecap="round"/>
<path d="M109.0,1615.2 L111.0,1617.9 L113.0,1617.3 L115.0,1620.0 L117.3,1621.3 L119.7,1621.4 L122.0,1622.2 L124.0,1622.0 L126.0,1619.4 L128.0,1619.3 L130.0,1617.0 L132.0,1616.6 L134.0,1619.0 L136.0,1618.0 L138.0,1617.8 L140.0,1619.0 L142.0,1618.4 L143.9,1618.9 L145.9,1617.2 L147.9,1617.8 L149.9,1616.7 L151.9,1616.6 L153.8,1616.6 L155.8,1617.2 L159.0,1600.0 L160.8,1588.7 L162.7,1577.4 L166.0,1582.0 L168.2,1587.8 L170.5,1594.3 L172.7,1601.3 L174.8,1599.8 L177.0,1597.0 L179.3,1594.9 L181.6,1593.3 L183.6,1594.2 L185.6,1594.3 L187.6,1594.3 L189.6,1594.4 L191.6,1593.5 L193.6,1593.3 L196.0,1585.0 L198.6,1577.4 L200.8,1579.1 L203.0,1580.0 L205.1,1582.6 L207.2,1583.3 L209.4,1583.9 L211.5,1586.4 L213.5,1586.1 L215.5,1585.7 L217.5,1584.5 L219.4,1583.9 L221.4,1583.7 L223.4,1584.7 L225.4,1584.6 L227.4,1583.4 L229.3,1583.8 L231.2,1583.1 L233.1,1582.1 L234.9,1582.0 L236.8,1583.6 L238.7,1583.3 L240.6,1583.1 L242.5,1582.3 L244.3,1582.1 L246.2,1582.2 L248.1,1582.1 L250.0,1583.0 L251.9,1583.4 L253.7,1582.8 L255.6,1583.5 L257.4,1583.3 L259.3,1583.8 L261.1,1584.4 L263.0,1584.6 L264.8,1583.1 L266.7,1585.3 L268.5,1585.2 L270.4,1585.2 L272.2,1584.4 L274.1,1585.8 L275.9,1585.6 L277.8,1584.2 L279.6,1585.5 L281.5,1586.0 L283.3,1585.9 L285.2,1585.4 L287.0,1586.6 L288.9,1585.7 L290.7,1586.2 L292.5,1584.9 L294.4,1586.5 L296.2,1585.3 L298.0,1586.9 L299.9,1587.5 L301.7,1586.3 L303.5,1585.7 L305.3,1585.8 L307.2,1587.1 L309.0,1586.3 L310.8,1587.9 L312.7,1587.7 L314.5,1587.6 L316.3,1588.2 L318.2,1587.0 L320.0,1588.0 L321.8,1588.0 L323.6,1587.1 L325.5,1588.4 L327.3,1589.2 L329.1,1587.7 L330.9,1589.1 L332.7,1590.0 L334.5,1588.4 L336.4,1588.2 L338.2,1588.4 L340.0,1590.0 L341.8,1588.2 L343.6,1590.0 L345.5,1588.9 L347.3,1590.2 L349.1,1590.6 L350.9,1590.6 L352.7,1589.1 L354.5,1590.1 L356.4,1589.6 L358.2,1591.1 L360.0,1590.3 L362.3,1565.0 L363.8,1548.0 L364.8,1542.6 L365.8,1548.0 L367.5,1565.0 L370.0,1586.4 L371.8,1585.9 L373.6,1585.7 L375.5,1586.3 L377.3,1585.6 L379.1,1586.0 L380.9,1587.2 L382.7,1586.3 L384.6,1586.0 L386.4,1588.0 L388.2,1586.3 L390.0,1587.7 L391.9,1587.5 L393.7,1587.2 L395.5,1587.5 L397.3,1587.4 L399.1,1588.1 L401.0,1587.8 L402.8,1586.8 L404.6,1587.4 L406.4,1587.9 L408.2,1587.7 L410.1,1588.9 L411.9,1587.0 L413.7,1588.0 L415.5,1589.5 L417.4,1587.4 L419.2,1589.2 L421.0,1589.8 L422.8,1589.2 L424.6,1588.0 L426.5,1589.9 L428.3,1588.8 L430.1,1589.6 L431.9,1590.5 L433.8,1589.4 L435.6,1589.4 L437.4,1589.2 L439.2,1589.9 L441.0,1589.5 L442.9,1591.1 L444.7,1591.6 L446.5,1589.8 L448.3,1591.1 L450.2,1591.9 L452.0,1592.1 L453.8,1590.9 L455.6,1591.8 L457.4,1592.3 L459.3,1592.0 L461.1,1593.4 L462.9,1593.3 L464.7,1593.6 L466.6,1591.7 L468.4,1591.6 L470.2,1592.9 L472.0,1593.2 L473.9,1593.3 L475.7,1592.6 L477.6,1592.6 L479.4,1594.1 L481.3,1594.2 L483.1,1592.4 L485.0,1592.7 L486.8,1594.3 L488.7,1593.6 L490.5,1593.1 L492.4,1595.1 L494.2,1593.7 L496.1,1593.2 L497.9,1594.1 L499.8,1594.1 L501.6,1594.8 L503.5,1595.2 L505.3,1593.6 L507.1,1594.7 L509.0,1595.8 L510.8,1594.9 L512.7,1596.0 L514.5,1596.1 L516.4,1595.9 L518.2,1595.7 L520.1,1594.4 L521.9,1596.6 L523.8,1595.1 L525.6,1595.2 L527.5,1595.8 L529.3,1595.9 L531.2,1596.6 L533.0,1596.1 L534.9,1597.1 L536.7,1596.9 L538.6,1596.7 L540.4,1596.4 L542.3,1595.9 L544.1,1596.8 L546.0,1596.6 L547.9,1597.2 L549.8,1596.1 L551.6,1597.4 L553.5,1597.3 L555.4,1596.1 L557.2,1597.9 L559.1,1596.9 L561.0,1596.9 L562.8,1596.7 L564.7,1596.8 L566.6,1597.9 L568.4,1598.2 L570.3,1597.2 L572.2,1597.4 L574.1,1597.3 L575.9,1596.5 L577.8,1597.5 L580.4,1594.7 L583.0,1590.0 L585.0,1540.0 L587.2,1502.8 L589.5,1540.0 L593.0,1590.5 L595.0,1587.5 L597.0,1583.6 L599.0,1582.0 L601.3,1578.7 L603.6,1576.2 L605.9,1574.1 L607.9,1575.8 L610.0,1575.2 L612.0,1576.1 L614.0,1578.0 L616.1,1578.8 L618.2,1576.9 L620.4,1578.2 L622.5,1575.5 L624.6,1576.5 L626.5,1575.7 L628.3,1576.4 L630.2,1577.2 L632.1,1577.9 L634.0,1577.6 L635.8,1579.6 L637.7,1579.9 L639.6,1579.2 L641.5,1580.6 L643.3,1580.6 L645.2,1581.2 L647.1,1580.5 L649.0,1579.6 L650.8,1581.1 L652.7,1581.2 L654.6,1580.2 L656.4,1581.3 L658.3,1583.0 L660.2,1581.7 L662.0,1582.6 L663.9,1583.5 L665.8,1583.1 L667.6,1582.4 L669.5,1582.9 L671.4,1582.1 L673.2,1584.0 L675.1,1583.9 L676.9,1583.2 L678.8,1583.7 L680.7,1585.0 L682.5,1583.1 L684.4,1583.7 L686.3,1584.9 L688.1,1585.5 L690.0,1585.0 L691.8,1585.3 L693.7,1585.7 L695.5,1584.3 L697.3,1585.9 L699.1,1586.0 L701.0,1585.0 L702.8,1586.3 L704.6,1585.8 L706.5,1586.2 L708.3,1587.5 L710.1,1587.8 L711.9,1585.9 L713.8,1586.3 L715.6,1587.8 L717.4,1588.7 L719.2,1588.2 L721.1,1587.6 L722.9,1588.2 L725.3,1586.8 L727.6,1585.1 L730.0,1582.0 L732.3,1579.8 L734.6,1578.7 L736.9,1578.8 L739.3,1577.5 L741.6,1577.0 L744.0,1575.3 L746.3,1551.9 L748.6,1544.8 L751.0,1537.8 L753.5,1541.5 L756.0,1545.0 L757.9,1547.4 L759.8,1549.0 L761.6,1551.5 L763.5,1555.0 L765.8,1551.2 L768.0,1550.0 L770.2,1548.4 L772.3,1546.4 L774.5,1545.6 L776.6,1545.8 L778.7,1545.5 L780.8,1545.1 L782.8,1546.4 L784.9,1545.1 L787.0,1545.6 L788.8,1543.4 L790.7,1541.3 L792.5,1539.9 L794.3,1538.7 L796.2,1535.9 L798.0,1533.0 L800.1,1522.6 L802.2,1512.1 L804.3,1501.7 L806.3,1470.3 L808.4,1439.0 L810.2,1419.4 L812.1,1399.8 L814.0,1407.4 L816.0,1415.0 L818.5,1427.8 L820.9,1440.6 L823.0,1420.0 L826.2,1401.4 L828.3,1395.9 L830.4,1396.3 L832.5,1392.0 L834.9,1397.6 L837.2,1403.0 L839.6,1397.2 L842.0,1390.0 L844.1,1384.2 L846.1,1380.5 L848.2,1379.4 L850.2,1373.8 L852.1,1371.2 L854.0,1368.0 L856.0,1366.9 L857.9,1363.6 L859.8,1359.5 L861.6,1353.3 L863.5,1347.9 L865.4,1345.0 L867.3,1343.3 L869.3,1340.2 L871.2,1339.6 L873.1,1339.4 L875.1,1340.5 L877.0,1337.0 L878.9,1337.6 L880.9,1333.5 L882.8,1336.7 L884.7,1337.0 L886.6,1335.9 L888.6,1331.2 L890.5,1332.4 L892.4,1332.6 L894.3,1334.3 L896.2,1330.2 L898.1,1331.7 L900.0,1331.0 L901.9,1331.4 L903.7,1332.9 L905.6,1331.8 L907.4,1329.5 L909.3,1329.3 L911.1,1330.2 L912.9,1328.4 L914.7,1332.3 L916.6,1329.4 L918.4,1332.1 L920.2,1329.6 L922.0,1332.0 L924.1,1333.8 L926.1,1334.9 L928.2,1331.6 L930.3,1333.8 L932.3,1333.0 L934.4,1335.5 L936.3,1333.8 L938.1,1330.4 L940.0,1330.0 L942.3,1331.1 L944.7,1329.3 L947.0,1326.1 L949.0,1325.9 L951.0,1329.3 L953.0,1333.0 L955.2,1334.1 L957.3,1335.8 L959.5,1340.2 L961.6,1340.9 L963.8,1342.3 L965.9,1341.5 L968.0,1342.0 L970.1,1342.0 L972.1,1340.1 L974.2,1341.6 L976.2,1343.7 L978.3,1341.8 L980.2,1336.2 L982.1,1333.7 L984.0,1332.0 L986.6,1326.8 L989.3,1321.4 L992.0,1330.0 L993.8,1334.3 L995.6,1338.7 L997.5,1337.3 L999.4,1340.6 L1001.2,1342.1 L1003.1,1339.7 L1005.0,1340.0 L1007.0,1342.7 L1008.9,1342.5 L1010.8,1341.5 L1012.8,1340.2 L1014.6,1340.9 L1016.5,1344.0 L1018.3,1347.9 L1020.2,1349.1 L1022.0,1349.0 L1023.9,1350.6 L1025.8,1351.0 L1027.8,1352.8 L1029.7,1355.2 L1031.6,1357.5 L1033.7,1360.5 L1035.8,1360.0 L1037.8,1362.1 L1039.9,1361.9 L1042.0,1365.0 L1043.9,1366.1 L1045.9,1366.0 L1047.8,1366.8 L1049.7,1369.0 L1051.7,1372.0 L1053.6,1373.2 L1055.6,1375.9 L1057.5,1378.4 L1059.5,1378.5 L1061.4,1381.9 L1063.4,1385.1 L1065.4,1382.6 L1067.3,1387.1 L1069.3,1388.8 L1071.3,1388.5 L1073.2,1393.1 L1075.2,1390.2 L1077.2,1392.1 L1079.1,1393.3 L1081.1,1396.2 L1083.0,1396.8 L1085.0,1397.0 L1087.0,1395.8 L1089.0,1398.8 L1091.0,1399.1 L1093.0,1399.1 L1095.0,1399.4 L1097.0,1402.5 L1099.0,1405.0 L1101.0,1404.5" fill="none" stroke="#0000ff" stroke-width="6" stroke-linejoin="round" stroke-linecap="round"/>
<line x1="161.7" y1="1589.3" x2="161.7" y2="1619.0" stroke="#ff0000" stroke-width="6.5"/>
<line x1="201.6" y1="1573.4" x2="201.6" y2="1619.0" stroke="#ff0000" stroke-width="6.5"/>
<line x1="364.8" y1="1575.4" x2="364.8" y2="1619.0" stroke="#ff0000" stroke-width="6.5"/>
<line x1="588.3" y1="1573.0" x2="588.3" y2="1619.0" stroke="#ff0000" stroke-width="6.5"/>
<line x1="752.5" y1="1548.8" x2="752.5" y2="1619.0" stroke="#ff0000" stroke-width="6.5"/>
<line x1="813.7" y1="1431.2" x2="813.7" y2="1619.0" stroke="#ff0000" stroke-width="6.5"/>
<rect x="721.8" y="895.8" width="354.5" height="109.6" fill="#fff" stroke="#262626" stroke-width="5.5"/>
<line x1="734" y1="925.5" x2="826" y2="925.5" stroke="#ff0000" stroke-width="5"/>
<line x1="734" y1="976" x2="826" y2="976" stroke="#0000ff" stroke-width="5"/>
<text transform="translate(831.7,942.0) scale(1,1.04)" font-size="49" fill="#000">Clean Co</text>
<text transform="translate(832.0,992.5) scale(1,1.04)" font-size="49" fill="#000">TBA on Co</text>
<text transform="translate(123.4,1522.7) scale(1,1.04)" font-size="36.5" font-weight="bold" fill="#000">Co 3p</text>
<text transform="translate(189.1,1571.4) scale(1,1.04)" font-size="36.5" font-weight="bold" fill="#000">Co 3s</text>
<text transform="translate(312.5,1517.7) scale(1,1.04)" font-size="61" font-weight="bold" fill="#000">C 1s</text>
<text transform="translate(523.8,1487.6) scale(1,1.04)" font-size="61" font-weight="bold" fill="#000">O 1s</text>
<text transform="translate(648.9,1523.8) scale(1,1.04)" font-size="36.5" font-weight="bold" fill="#000">Co LMM</text>
<text transform="translate(651.4,1382.3) scale(1,1.04)" font-size="61" font-weight="bold" fill="#000">Co 2p</text>
<text transform="translate(128.3,977.8) scale(1,1.04)" font-size="110" fill="#000">B</text>
<line x1="278.4" y1="1705.0" x2="278.4" y2="2457.0" stroke="#d9d9d9" stroke-width="5.2" stroke-dasharray="18.3 18.3" stroke-dashoffset="35"/>
<line x1="458.7" y1="1705.0" x2="458.7" y2="2457.0" stroke="#d9d9d9" stroke-width="5.2" stroke-dasharray="18.3 18.3" stroke-dashoffset="35"/>
<line x1="639.1" y1="1705.0" x2="639.1" y2="2457.0" stroke="#d9d9d9" stroke-width="5.2" stroke-dasharray="18.3 18.3" stroke-dashoffset="35"/>
<line x1="819.5" y1="1705.0" x2="819.5" y2="2457.0" stroke="#d9d9d9" stroke-width="5.2" stroke-dasharray="18.3 18.3" stroke-dashoffset="35"/>
<line x1="999.8" y1="1705.0" x2="999.8" y2="2457.0" stroke="#d9d9d9" stroke-width="5.2" stroke-dasharray="18.3 18.3" stroke-dashoffset="35"/>
<line x1="98.0" y1="1855.4" x2="1090.0" y2="1855.4" stroke="#d9d9d9" stroke-width="5.2" stroke-dasharray="18.3 18.3" stroke-dashoffset="14.3"/>
<line x1="98.0" y1="2005.8" x2="1090.0" y2="2005.8" stroke="#d9d9d9" stroke-width="5.2" stroke-dasharray="18.3 18.3" stroke-dashoffset="14.3"/>
<line x1="98.0" y1="2156.2" x2="1090.0" y2="2156.2" stroke="#d9d9d9" stroke-width="5.2" stroke-dasharray="18.3 18.3" stroke-dashoffset="14.3"/>
<line x1="98.0" y1="2306.6" x2="1090.0" y2="2306.6" stroke="#d9d9d9" stroke-width="5.2" stroke-dasharray="18.3 18.3" stroke-dashoffset="14.3"/>
<line x1="278.4" y1="1705.0" x2="278.4" y2="1717.5" stroke="#000" stroke-width="5"/>
<line x1="278.4" y1="2457.0" x2="278.4" y2="2444.5" stroke="#000" stroke-width="5"/>
<line x1="458.7" y1="1705.0" x2="458.7" y2="1717.5" stroke="#000" stroke-width="5"/>
<line x1="458.7" y1="2457.0" x2="458.7" y2="2444.5" stroke="#000" stroke-width="5"/>
<line x1="639.1" y1="1705.0" x2="639.1" y2="1717.5" stroke="#000" stroke-width="5"/>
<line x1="639.1" y1="2457.0" x2="639.1" y2="2444.5" stroke="#000" stroke-width="5"/>
<line x1="819.5" y1="1705.0" x2="819.5" y2="1717.5" stroke="#000" stroke-width="5"/>
<line x1="819.5" y1="2457.0" x2="819.5" y2="2444.5" stroke="#000" stroke-width="5"/>
<line x1="999.8" y1="1705.0" x2="999.8" y2="1717.5" stroke="#000" stroke-width="5"/>
<line x1="999.8" y1="2457.0" x2="999.8" y2="2444.5" stroke="#000" stroke-width="5"/>
<line x1="98.0" y1="1855.4" x2="110.5" y2="1855.4" stroke="#000" stroke-width="5"/>
<line x1="1090.0" y1="1855.4" x2="1077.5" y2="1855.4" stroke="#000" stroke-width="5"/>
<line x1="98.0" y1="2005.8" x2="110.5" y2="2005.8" stroke="#000" stroke-width="5"/>
<line x1="1090.0" y1="2005.8" x2="1077.5" y2="2005.8" stroke="#000" stroke-width="5"/>
<line x1="98.0" y1="2156.2" x2="110.5" y2="2156.2" stroke="#000" stroke-width="5"/>
<line x1="1090.0" y1="2156.2" x2="1077.5" y2="2156.2" stroke="#000" stroke-width="5"/>
<line x1="98.0" y1="2306.6" x2="110.5" y2="2306.6" stroke="#000" stroke-width="5"/>
<line x1="1090.0" y1="2306.6" x2="1077.5" y2="2306.6" stroke="#000" stroke-width="5"/>
<rect x="98.0" y="1705.0" width="992.0" height="752.0" fill="none" stroke="#000" stroke-width="6"/>
<path d="M98.0,2145.6 L100.5,2146.7 L103.0,2149.0 L105.0,2151.3 L107.0,2153.1 L109.0,2155.6 L110.8,2154.6 L112.6,2153.5 L114.4,2151.0 L116.2,2149.6 L118.0,2149.6 L120.0,2151.0 L122.0,2150.2 L124.0,2150.7 L126.0,2153.1 L128.0,2152.4 L130.0,2153.0 L131.8,2153.9 L133.7,2153.1 L135.5,2153.6 L137.3,2152.5 L139.1,2153.8 L141.0,2154.4 L142.8,2153.6 L146.0,2148.0 L147.8,2136.0 L150.7,2105.8 L153.0,2111.0 L154.9,2117.2 L156.8,2123.5 L158.7,2129.7 L160.8,2128.5 L162.9,2127.8 L165.0,2126.0 L166.9,2125.3 L168.7,2122.7 L170.6,2122.7 L172.6,2124.6 L174.6,2125.4 L176.6,2126.0 L178.6,2127.7 L180.6,2125.5 L182.6,2125.7 L185.0,2116.0 L187.6,2108.8 L189.8,2111.9 L192.0,2113.0 L194.2,2115.2 L196.3,2118.1 L198.5,2119.8 L200.5,2120.4 L202.5,2119.6 L204.5,2119.7 L206.5,2117.9 L208.5,2118.6 L210.5,2117.4 L212.3,2117.4 L214.2,2118.7 L216.0,2118.7 L217.9,2116.7 L219.7,2117.0 L221.6,2117.3 L223.4,2119.3 L225.2,2118.0 L227.1,2118.6 L228.9,2117.9 L230.8,2118.5 L232.6,2118.3 L234.5,2118.3 L236.3,2119.0 L238.2,2119.1 L240.0,2119.0 L241.9,2120.1 L243.8,2119.7 L245.7,2120.4 L247.6,2120.3 L249.5,2120.7 L251.4,2120.0 L253.3,2118.8 L255.2,2120.7 L257.1,2121.0 L259.0,2121.0 L260.9,2120.2 L262.8,2120.7 L264.7,2119.5 L266.6,2121.2 L268.5,2120.6 L270.4,2120.0 L272.3,2119.5 L274.2,2120.7 L276.1,2121.7 L278.0,2122.2 L279.9,2120.0 L281.7,2122.0 L283.6,2121.1 L285.5,2120.5 L287.4,2121.0 L289.3,2122.4 L291.2,2122.7 L293.0,2120.8 L294.9,2122.3 L296.8,2121.0 L298.7,2122.8 L300.6,2122.0 L302.5,2123.5 L304.3,2123.9 L306.2,2122.8 L308.1,2124.1 L310.0,2123.0 L311.8,2122.7 L313.6,2122.3 L315.4,2123.8 L317.2,2122.5 L319.0,2123.1 L320.8,2123.8 L322.6,2124.5 L324.4,2123.5 L326.2,2123.4 L328.0,2125.7 L329.8,2124.5 L331.6,2126.3 L333.4,2126.3 L335.2,2125.2 L337.0,2125.5 L338.8,2125.9 L340.6,2126.4 L342.4,2126.4 L344.2,2126.5 L346.0,2126.8 L347.8,2126.7 L350.0,2117.0 L352.0,2112.8 L354.0,2114.0 L356.0,2112.8 L358.0,2117.0 L359.8,2123.7 L361.7,2123.9 L363.6,2124.0 L365.4,2124.9 L367.3,2123.9 L369.2,2124.3 L371.1,2126.2 L372.9,2125.3 L374.8,2125.6 L376.7,2124.5 L378.6,2125.7 L380.5,2126.3 L382.3,2125.2 L384.2,2126.9 L386.1,2127.1 L388.0,2125.9 L389.8,2127.6 L391.7,2127.4 L393.6,2127.7 L395.5,2128.2 L397.3,2127.5 L399.2,2128.4 L401.0,2128.6 L402.9,2126.9 L404.7,2127.1 L406.6,2128.7 L408.4,2129.5 L410.2,2127.8 L412.1,2128.4 L413.9,2128.8 L415.8,2128.2 L417.7,2128.4 L419.5,2128.3 L421.4,2128.5 L423.2,2129.2 L425.1,2128.5 L426.9,2128.8 L428.8,2129.8 L430.6,2128.1 L432.4,2129.5 L434.3,2130.0 L436.1,2129.0 L438.0,2128.9 L439.9,2130.4 L441.7,2129.1 L443.6,2129.0 L445.4,2129.7 L447.2,2130.4 L449.1,2129.1 L450.9,2129.7 L452.8,2129.8 L454.6,2131.1 L456.5,2130.2 L458.4,2131.3 L460.2,2130.5 L462.0,2129.8 L463.9,2130.3 L465.7,2131.1 L467.6,2131.8 L469.4,2130.8 L471.3,2130.4 L473.1,2130.2 L475.0,2131.3 L476.8,2130.6 L478.7,2132.2 L480.5,2132.3 L482.4,2130.8 L484.2,2131.2 L486.1,2132.5 L487.9,2132.2 L489.8,2132.7 L491.6,2131.7 L493.5,2131.3 L495.3,2131.8 L497.1,2133.0 L499.0,2131.9 L500.8,2132.2 L502.7,2132.4 L504.5,2132.5 L506.4,2132.6 L508.2,2133.9 L510.1,2132.2 L511.9,2131.9 L513.8,2134.2 L515.6,2134.2 L517.5,2134.5 L519.3,2133.3 L521.2,2134.6 L523.0,2134.7 L524.9,2133.1 L526.7,2134.4 L528.6,2134.7 L530.4,2134.0 L532.2,2134.4 L534.1,2134.0 L535.9,2133.5 L537.8,2133.6 L539.6,2133.3 L541.5,2133.0 L543.3,2134.2 L545.2,2133.5 L547.0,2134.7 L548.9,2132.9 L550.7,2135.0 L552.6,2134.5 L554.4,2135.0 L556.3,2135.0 L558.1,2135.0 L560.0,2134.2 L561.8,2132.8 L563.7,2134.6 L565.5,2134.0 L568.5,2131.0 L571.0,2122.0 L573.3,2086.0 L574.6,2046.0 L575.5,2024.0 L576.3,2021.0 L577.1,2024.0 L577.9,2046.0 L578.7,2086.0 L579.6,2118.0 L581.0,2123.0 L583.5,2119.7 L586.0,2118.0 L587.9,2115.9 L589.8,2115.3 L591.7,2113.4 L593.6,2111.8 L595.4,2111.7 L597.2,2113.3 L599.1,2112.5 L600.9,2111.9 L602.7,2111.8 L604.5,2113.6 L606.4,2112.7 L608.2,2113.6 L610.0,2113.0 L611.9,2113.1 L613.7,2113.1 L615.6,2114.5 L617.5,2115.7 L619.3,2114.5 L621.2,2116.6 L623.1,2117.4 L624.9,2117.5 L626.8,2118.0 L628.7,2116.4 L630.5,2118.5 L632.4,2119.5 L634.3,2117.9 L636.1,2118.9 L638.0,2120.0 L639.8,2119.5 L641.6,2120.3 L643.5,2120.2 L645.3,2120.4 L647.1,2121.3 L648.9,2119.5 L650.8,2119.8 L652.6,2120.1 L654.4,2120.2 L656.2,2120.2 L658.0,2122.6 L659.9,2122.4 L661.7,2120.6 L663.5,2121.8 L665.3,2121.4 L667.2,2121.6 L669.0,2121.8 L670.8,2122.3 L672.6,2122.8 L674.4,2122.7 L676.3,2122.3 L678.1,2121.9 L679.9,2122.4 L681.8,2122.0 L683.6,2123.2 L685.4,2123.7 L687.2,2123.0 L689.0,2122.3 L690.9,2122.7 L692.7,2123.3 L694.5,2123.9 L696.4,2124.5 L698.2,2123.6 L700.0,2124.0 L701.9,2125.1 L703.8,2125.1 L705.7,2125.0 L707.6,2125.2 L709.5,2125.9 L711.4,2126.8 L713.3,2126.4 L715.2,2127.0 L717.6,2123.0 L720.0,2118.0 L722.3,2113.0 L724.6,2108.3 L727.3,2106.4 L730.0,2106.0 L732.4,2093.5 L734.7,2081.0 L737.1,2065.8 L739.5,2050.5 L741.3,2055.8 L743.2,2061.5 L745.0,2066.0 L747.3,2070.0 L749.7,2076.6 L752.0,2082.2 L753.9,2081.0 L755.8,2081.5 L757.6,2080.8 L759.5,2078.0 L761.4,2077.5 L763.5,2079.0 L765.6,2078.9 L767.6,2077.5 L769.7,2078.4 L771.8,2077.5 L773.9,2079.0 L776.3,2078.4 L778.6,2076.2 L781.0,2074.0 L783.7,2069.2 L786.4,2061.8 L788.5,2051.3 L790.6,2040.9 L792.7,2030.4 L795.9,1999.0 L798.4,1930.0 L800.6,1865.8 L803.0,1881.0 L805.3,1911.3 L808.0,1931.0 L810.0,1941.0 L812.0,1916.0 L814.7,1894.0 L817.0,1898.9 L819.4,1900.3 L821.5,1907.1 L823.5,1913.9 L825.6,1920.7 L828.3,1916.8 L831.0,1911.0 L832.9,1909.4 L834.7,1905.3 L836.6,1901.9 L838.7,1898.5 L840.8,1900.3 L842.9,1898.7 L846.0,1881.0 L849.2,1861.1 L851.3,1857.6 L853.3,1857.9 L855.4,1859.5 L857.3,1862.2 L859.2,1859.0 L861.2,1860.4 L863.1,1861.5 L865.0,1865.0 L866.8,1867.8 L868.7,1864.0 L870.5,1863.6 L872.4,1869.0 L874.2,1867.4 L876.1,1864.5 L878.0,1868.2 L879.9,1866.5 L881.8,1866.9 L883.7,1864.2 L885.6,1867.9 L887.5,1866.6 L889.4,1868.9 L891.2,1865.3 L893.1,1870.6 L895.0,1870.0 L897.1,1871.4 L899.2,1874.0 L901.4,1871.7 L903.5,1876.9 L905.6,1876.8 L907.7,1881.5 L909.8,1878.3 L911.9,1883.0 L914.0,1881.2 L916.1,1881.8 L918.1,1882.6 L920.2,1878.3 L922.3,1877.2 L924.4,1878.3 L926.3,1874.4 L928.1,1874.1 L930.0,1871.0 L932.7,1868.4 L935.4,1862.7 L937.6,1866.5 L939.8,1870.8 L942.0,1876.0 L943.9,1877.5 L945.8,1879.4 L947.6,1882.0 L949.5,1884.6 L951.4,1881.2 L953.2,1882.8 L955.1,1884.7 L957.0,1881.0 L959.0,1881.4 L961.1,1884.3 L963.2,1881.7 L965.2,1884.6 L967.1,1882.2 L969.1,1879.1 L971.0,1874.0 L973.6,1864.4 L976.2,1854.8 L978.1,1861.4 L980.0,1866.0 L982.0,1872.2 L984.0,1878.3 L986.1,1878.4 L988.2,1878.2 L990.2,1879.2 L992.3,1880.7 L994.4,1876.2 L996.5,1878.3 L998.4,1879.0 L1000.3,1886.1 L1002.2,1890.2 L1004.1,1891.0 L1006.0,1894.0 L1008.0,1895.0 L1010.0,1898.0 L1012.0,1896.1 L1014.0,1897.9 L1016.0,1898.9 L1018.0,1902.0 L1019.9,1904.1 L1021.7,1904.0 L1023.6,1905.0 L1025.4,1909.3 L1027.3,1912.4 L1029.1,1910.0 L1031.0,1912.8 L1032.8,1915.4 L1034.6,1915.2 L1036.4,1919.2 L1038.2,1919.1 L1040.0,1920.0 L1042.0,1920.4 L1043.9,1921.8 L1045.9,1922.4 L1047.8,1926.7 L1049.8,1928.5 L1051.8,1929.3 L1053.9,1929.7 L1055.9,1932.2 L1058.0,1933.5 L1060.0,1936.0 L1062.2,1938.8 L1064.3,1936.5 L1066.5,1942.4 L1068.7,1941.0 L1070.6,1942.1 L1072.5,1943.9 L1074.3,1944.3 L1076.2,1947.5 L1078.1,1948.6 L1080.0,1948.0 L1082.0,1949.2 L1084.0,1949.7 L1086.0,1951.9 L1088.0,1953.5 L1090.0,1952.5" fill="none" stroke="#ff0000" stroke-width="6" stroke-linejoin="round" stroke-linecap="round"/>
<path d="M98.0,2450.2 L100.5,2452.4 L103.0,2454.0 L105.0,2455.3 L106.9,2454.7 L108.9,2455.2 L110.7,2454.9 L112.5,2454.6 L114.4,2452.7 L116.2,2452.4 L118.0,2451.0 L120.0,2451.8 L122.0,2452.5 L124.0,2450.8 L126.0,2451.4 L128.0,2452.5 L129.8,2453.5 L131.7,2452.8 L133.6,2451.4 L135.4,2452.4 L137.2,2450.9 L139.1,2451.2 L141.0,2451.2 L142.8,2451.2 L144.9,2443.1 L147.0,2435.0 L148.8,2426.2 L150.7,2417.4 L154.0,2422.0 L156.3,2427.5 L158.7,2434.3 L161.3,2431.8 L164.0,2431.0 L166.2,2429.8 L168.4,2428.9 L170.6,2427.3 L172.6,2426.7 L174.6,2427.3 L176.6,2427.9 L178.6,2425.4 L180.6,2426.3 L184.0,2418.0 L187.6,2407.4 L189.8,2409.1 L192.0,2412.0 L194.2,2413.7 L196.3,2418.0 L198.5,2420.3 L200.5,2419.4 L202.5,2418.8 L204.5,2417.7 L206.5,2418.4 L208.5,2417.7 L210.5,2416.4 L212.3,2416.1 L214.1,2416.9 L215.9,2415.2 L217.8,2415.3 L219.6,2416.7 L221.4,2414.6 L223.2,2414.3 L225.0,2415.0 L226.9,2413.5 L228.8,2414.8 L230.6,2414.9 L232.5,2412.6 L234.4,2413.4 L236.3,2414.2 L238.1,2414.9 L240.0,2416.0 L241.9,2415.7 L243.8,2415.6 L245.7,2416.1 L247.6,2415.6 L249.5,2417.7 L251.4,2416.0 L253.3,2417.0 L255.2,2417.4 L257.1,2417.6 L259.0,2417.2 L260.9,2417.5 L262.8,2418.6 L264.7,2416.8 L266.6,2417.0 L268.5,2417.4 L270.4,2418.7 L272.3,2418.0 L274.2,2418.3 L276.1,2418.1 L278.0,2417.4 L279.9,2417.5 L281.7,2418.9 L283.6,2417.9 L285.5,2418.6 L287.4,2418.1 L289.3,2418.3 L291.2,2418.1 L293.0,2420.0 L294.9,2419.3 L296.8,2419.0 L298.7,2418.4 L300.6,2420.0 L302.5,2419.4 L304.3,2418.4 L306.2,2418.6 L308.1,2420.6 L310.0,2419.5 L311.8,2419.1 L313.7,2419.4 L315.5,2418.6 L317.3,2420.6 L319.2,2419.0 L321.0,2419.9 L322.8,2420.3 L324.7,2419.9 L326.5,2419.5 L328.3,2419.3 L330.2,2420.4 L332.0,2419.3 L333.8,2420.3 L335.7,2421.2 L337.5,2421.1 L339.3,2420.5 L341.2,2420.4 L343.0,2419.3 L344.8,2421.0 L346.7,2421.3 L348.5,2420.3 L351.0,2385.0 L352.8,2362.6 L354.6,2385.0 L357.5,2416.4 L359.3,2416.0 L361.1,2415.3 L362.9,2416.5 L364.7,2416.2 L366.5,2417.3 L368.3,2417.1 L370.1,2416.2 L371.9,2416.5 L373.7,2416.3 L375.6,2416.8 L377.4,2416.8 L379.2,2416.8 L381.0,2415.7 L382.8,2417.2 L384.6,2415.3 L386.4,2415.8 L388.2,2416.5 L390.0,2415.2 L391.8,2416.7 L393.6,2416.4 L395.5,2416.2 L397.3,2416.4 L399.2,2416.0 L401.0,2416.9 L402.9,2417.7 L404.7,2416.5 L406.6,2418.7 L408.4,2419.3 L410.2,2418.4 L412.1,2418.6 L413.9,2419.5 L415.8,2419.3 L417.7,2419.6 L419.5,2419.3 L421.4,2419.6 L423.2,2419.4 L425.1,2419.0 L426.9,2420.9 L428.8,2420.8 L430.6,2419.4 L432.4,2421.5 L434.3,2422.3 L436.1,2421.0 L438.0,2422.5 L439.9,2421.0 L441.7,2422.2 L443.6,2422.8 L445.4,2422.1 L447.2,2422.0 L449.1,2421.8 L450.9,2423.1 L452.8,2422.7 L454.6,2423.3 L456.5,2423.9 L458.4,2423.1 L460.2,2424.0 L462.0,2423.9 L463.9,2423.1 L465.7,2424.8 L467.6,2425.1 L469.4,2424.1 L471.3,2424.0 L473.1,2425.2 L475.0,2424.9 L476.8,2425.9 L478.7,2425.9 L480.5,2425.2 L482.4,2425.3 L484.2,2425.8 L486.1,2426.0 L487.9,2425.8 L489.8,2426.1 L491.6,2425.8 L493.5,2426.7 L495.3,2426.3 L497.1,2425.6 L499.0,2426.9 L500.8,2426.3 L502.7,2426.5 L504.5,2427.2 L506.4,2428.0 L508.2,2427.0 L510.1,2427.1 L511.9,2427.8 L513.8,2428.4 L515.6,2428.4 L517.5,2429.0 L519.3,2426.9 L521.2,2428.2 L523.0,2427.9 L524.9,2428.0 L526.7,2428.0 L528.6,2428.8 L530.4,2428.7 L532.3,2429.3 L534.1,2429.1 L536.0,2427.7 L537.8,2428.6 L539.7,2429.5 L541.6,2428.4 L543.4,2428.2 L545.3,2428.4 L547.2,2429.0 L549.0,2428.2 L550.9,2427.9 L552.7,2427.5 L554.6,2427.8 L556.5,2429.1 L558.3,2427.7 L560.2,2428.3 L562.1,2428.2 L563.9,2429.5 L565.8,2429.5 L567.6,2427.6 L569.5,2428.7 L572.2,2420.0 L573.8,2380.0 L575.3,2344.5 L576.8,2380.0 L579.0,2420.5 L581.0,2417.5 L583.0,2415.6 L585.0,2413.2 L587.0,2412.0 L589.2,2410.1 L591.4,2409.5 L593.6,2406.5 L595.5,2406.5 L597.3,2407.4 L599.2,2407.2 L601.1,2408.5 L603.0,2407.4 L604.8,2408.3 L606.7,2407.1 L608.6,2408.0 L610.4,2407.3 L612.3,2408.8 L614.2,2409.1 L616.0,2409.8 L617.9,2408.9 L619.8,2410.0 L621.7,2410.8 L623.5,2410.2 L625.4,2412.1 L627.3,2410.2 L629.2,2411.3 L631.0,2413.2 L632.9,2413.5 L634.8,2412.5 L636.7,2412.0 L638.5,2412.7 L640.4,2413.5 L642.2,2413.4 L644.0,2413.5 L645.8,2413.8 L647.6,2413.8 L649.4,2415.3 L651.2,2413.3 L653.0,2415.5 L654.8,2414.5 L656.6,2416.2 L658.4,2416.1 L660.2,2416.3 L662.0,2415.5 L663.8,2416.5 L665.6,2414.8 L667.4,2415.5 L669.2,2415.1 L671.0,2415.0 L672.8,2417.5 L674.6,2416.2 L676.4,2416.0 L678.2,2417.8 L680.0,2417.0 L681.9,2418.0 L683.8,2417.7 L685.7,2417.1 L687.6,2416.9 L689.5,2417.1 L691.4,2418.6 L693.3,2419.6 L695.2,2419.1 L697.2,2418.4 L699.1,2418.3 L701.0,2420.3 L702.9,2420.3 L704.8,2419.8 L706.7,2420.3 L708.6,2419.2 L710.5,2420.5 L712.5,2416.5 L714.4,2415.5 L716.4,2411.2 L719.9,2418.2 L722.5,2414.4 L725.0,2413.0 L727.7,2411.7 L730.4,2408.8 L732.5,2398.5 L734.7,2388.2 L737.4,2380.9 L740.0,2375.6 L742.0,2379.5 L744.0,2382.0 L746.4,2384.1 L748.8,2388.2 L750.9,2385.6 L752.9,2385.9 L755.0,2384.0 L757.1,2384.1 L759.3,2381.6 L761.4,2380.3 L763.5,2381.3 L765.6,2380.3 L767.6,2380.6 L769.7,2379.5 L771.8,2380.2 L773.9,2378.8 L775.7,2377.7 L777.6,2375.3 L779.4,2373.8 L781.2,2373.5 L783.1,2369.5 L784.9,2369.3 L787.0,2362.0 L789.0,2354.7 L791.1,2347.4 L794.3,2325.4 L797.4,2278.4 L800.6,2262.7 L802.8,2268.8 L805.0,2275.0 L807.5,2283.0 L810.0,2291.0 L812.4,2273.8 L814.7,2256.5 L816.8,2251.0 L818.8,2250.7 L820.9,2245.5 L823.0,2248.3 L825.1,2252.2 L827.2,2253.3 L829.1,2247.8 L831.0,2243.0 L832.8,2238.5 L834.7,2233.7 L836.6,2228.2 L838.6,2223.8 L840.5,2219.8 L842.5,2218.8 L844.5,2215.7 L847.6,2196.9 L849.6,2193.5 L851.6,2194.2 L853.6,2191.0 L855.7,2192.1 L857.7,2190.4 L859.7,2187.1 L861.7,2187.5 L863.7,2187.4 L865.6,2183.8 L867.6,2184.5 L869.5,2179.4 L871.5,2178.7 L873.5,2176.3 L875.4,2176.3 L877.4,2173.4 L879.4,2172.0 L881.3,2172.6 L883.2,2171.5 L885.2,2169.4 L887.1,2173.0 L889.1,2168.9 L891.0,2171.5 L893.0,2168.7 L895.0,2169.4 L897.0,2168.8 L899.0,2168.7 L901.0,2168.2 L903.0,2167.7 L905.0,2170.0 L906.9,2168.9 L908.7,2172.5 L910.6,2168.2 L912.5,2170.1 L914.4,2170.0 L916.2,2169.2 L918.1,2170.2 L920.1,2166.6 L922.0,2169.6 L924.0,2167.4 L926.0,2166.8 L927.9,2165.1 L929.9,2166.6 L931.8,2163.5 L933.8,2162.4 L935.6,2164.1 L937.4,2162.1 L939.2,2163.7 L941.0,2165.5 L942.8,2167.9 L944.6,2167.6 L946.4,2168.5 L948.2,2167.3 L950.0,2168.0 L951.9,2170.1 L953.8,2171.0 L955.7,2171.6 L957.6,2168.8 L959.5,2172.8 L961.4,2174.6 L963.3,2174.3 L965.2,2173.4 L967.1,2171.5 L969.1,2165.1 L971.0,2165.0 L973.6,2158.9 L976.2,2154.5 L978.1,2155.7 L980.0,2162.0 L982.0,2166.5 L984.0,2168.7 L986.1,2168.8 L988.2,2170.0 L990.2,2164.8 L992.3,2166.7 L994.4,2168.7 L996.5,2165.5 L998.5,2169.1 L1000.4,2166.5 L1002.4,2169.6 L1004.4,2174.5 L1006.3,2172.4 L1008.3,2175.1 L1010.2,2174.4 L1012.2,2178.0 L1014.2,2181.8 L1016.1,2183.4 L1018.1,2182.3 L1020.1,2182.2 L1022.0,2185.1 L1024.0,2188.2 L1025.9,2191.2 L1027.9,2190.6 L1029.9,2192.4 L1031.8,2193.6 L1033.8,2194.1 L1035.8,2196.8 L1037.7,2198.5 L1039.7,2202.8 L1041.6,2202.7 L1043.6,2204.7 L1045.5,2207.2 L1047.4,2205.2 L1049.2,2205.8 L1051.1,2207.4 L1053.0,2208.5 L1054.9,2213.5 L1056.8,2212.3 L1058.6,2212.6 L1060.5,2212.4 L1062.4,2215.7 L1064.5,2215.8 L1066.6,2219.5 L1068.7,2220.8 L1070.8,2221.5 L1072.9,2221.7 L1075.0,2224.0 L1076.9,2226.8 L1078.8,2225.6 L1080.6,2229.1 L1082.5,2226.4 L1084.4,2232.0 L1086.2,2231.2 L1088.1,2234.0 L1090.0,2233.5" fill="none" stroke="#0000ff" stroke-width="6" stroke-linejoin="round" stroke-linecap="round"/>
<line x1="152.7" y1="2426.3" x2="152.7" y2="2454.0" stroke="#ff0000" stroke-width="6.5"/>
<line x1="189.6" y1="2413.4" x2="189.6" y2="2454.0" stroke="#ff0000" stroke-width="6.5"/>
<line x1="353.8" y1="2409.4" x2="353.8" y2="2454.0" stroke="#ff0000" stroke-width="6.5"/>
<line x1="573.7" y1="2404.1" x2="573.7" y2="2454.0" stroke="#ff0000" stroke-width="6.5"/>
<line x1="741.6" y1="2381.9" x2="741.6" y2="2454.0" stroke="#ff0000" stroke-width="6.5"/>
<line x1="801.5" y1="2265.9" x2="801.5" y2="2454.0" stroke="#ff0000" stroke-width="6.5"/>
<rect x="672.8" y="1729.8" width="392.4" height="109.4" fill="#fff" stroke="#000" stroke-width="5.5"/>
<line x1="683.6" y1="1759" x2="775.2" y2="1759" stroke="#ff0000" stroke-width="5"/>
<line x1="686.8" y1="1810.3" x2="778.4" y2="1810.3" stroke="#0000ff" stroke-width="5"/>
<text transform="translate(781.4,1775.5) scale(1,1.04)" font-size="49" fill="#000">Clean Co</text>
<text transform="translate(780.4,1826.8) scale(1,1.04)" font-size="49" fill="#000">BTBA on Co</text>
<text transform="translate(115.4,2352.7) scale(1,1.04)" font-size="36.5" font-weight="bold" fill="#000">Co 3p</text>
<text transform="translate(171.1,2396.5) scale(1,1.04)" font-size="36.5" font-weight="bold" fill="#000">Co 3s</text>
<text transform="translate(300.5,2351.7) scale(1,1.04)" font-size="61" font-weight="bold" fill="#000">C 1s</text>
<text transform="translate(522.0,2328.1) scale(1,1.04)" font-size="61" font-weight="bold" fill="#000">O 1s</text>
<text transform="translate(627.1,2367.9) scale(1,1.04)" font-size="36.5" font-weight="bold" fill="#000">Co LMM</text>
<text transform="translate(643.7,2240.4) scale(1,1.04)" font-size="61" font-weight="bold" fill="#000">Co 2p</text>
<text transform="translate(117.3,1812.2) scale(1,1.04)" font-size="110" fill="#000">C</text>
<text transform="translate(67.5,603.0) rotate(-90) scale(1,1.04)" font-size="55" fill="#000">Intensity (a.u.)</text>
<text transform="translate(79.2,1436.0) rotate(-90) scale(1,1.04)" font-size="55" fill="#000">Intensity (a.u.)</text>
<text transform="translate(68.0,2269.0) rotate(-90) scale(1,1.04)" font-size="55" fill="#000">Intensity (a.u.)</text>
<text transform="translate(93.0,2523.5) scale(1,1.04)" font-size="54.5" text-anchor="middle" fill="#000">0</text>
<text transform="translate(276.5,2523.5) scale(1,1.04)" font-size="54.5" text-anchor="middle" fill="#000">200</text>
<text transform="translate(455.5,2523.5) scale(1,1.04)" font-size="54.5" text-anchor="middle" fill="#000">400</text>
<text transform="translate(636.8,2523.5) scale(1,1.04)" font-size="54.5" text-anchor="middle" fill="#000">600</text>
<text transform="translate(817.6,2523.5) scale(1,1.04)" font-size="54.5" text-anchor="middle" fill="#000">800</text>
<text transform="translate(999.5,2523.5) scale(1,1.04)" font-size="54.5" text-anchor="middle" fill="#000">1000</text>
<text transform="translate(326.9,2598.4) scale(1,1.04)" font-size="54.5" fill="#000">Binding Energy</text>
<text transform="translate(698.1,2598.4) scale(1,1.04)" font-size="55.5" fill="#000">(eV)</text>
<line x1="1589.0" y1="38.7" x2="1589.0" y2="51.2" stroke="#262626" stroke-width="5"/>
<line x1="1589.0" y1="789.8" x2="1589.0" y2="777.3" stroke="#262626" stroke-width="5"/>
<line x1="1837.0" y1="38.7" x2="1837.0" y2="51.2" stroke="#262626" stroke-width="5"/>
<line x1="1837.0" y1="789.8" x2="1837.0" y2="777.3" stroke="#262626" stroke-width="5"/>
<line x1="2085.0" y1="38.7" x2="2085.0" y2="51.2" stroke="#262626" stroke-width="5"/>
<line x1="2085.0" y1="789.8" x2="2085.0" y2="777.3" stroke="#262626" stroke-width="5"/>
<line x1="1341.0" y1="639.6" x2="1353.5" y2="639.6" stroke="#000" stroke-width="5"/>
<line x1="2333.0" y1="639.6" x2="2320.5" y2="639.6" stroke="#000" stroke-width="5"/>
<line x1="1341.0" y1="489.4" x2="1353.5" y2="489.4" stroke="#000" stroke-width="5"/>
<line x1="2333.0" y1="489.4" x2="2320.5" y2="489.4" stroke="#000" stroke-width="5"/>
<line x1="1341.0" y1="339.1" x2="1353.5" y2="339.1" stroke="#000" stroke-width="5"/>
<line x1="2333.0" y1="339.1" x2="2320.5" y2="339.1" stroke="#000" stroke-width="5"/>
<line x1="1341.0" y1="188.9" x2="1353.5" y2="188.9" stroke="#000" stroke-width="5"/>
<line x1="2333.0" y1="188.9" x2="2320.5" y2="188.9" stroke="#000" stroke-width="5"/>
<line x1="1338.0" y1="38.7" x2="2336.0" y2="38.7" stroke="#262626" stroke-width="6"/>
<line x1="1338.0" y1="789.8" x2="2336.0" y2="789.8" stroke="#262626" stroke-width="6"/>
<line x1="1341.0" y1="38.7" x2="1341.0" y2="789.8" stroke="#000" stroke-width="6"/>
<line x1="2333.0" y1="38.7" x2="2333.0" y2="789.8" stroke="#000" stroke-width="6"/>
<path d="M1341.0,787.1 L1344.0,787.3 L1347.0,787.3 L1350.0,787.3 L1353.0,787.1 L1356.0,786.9 L1359.0,786.7 L1362.0,786.3 L1365.0,785.8 L1368.0,785.3 L1371.0,784.7 L1374.0,783.9 L1377.0,783.1 L1380.0,782.2 L1383.0,781.2 L1386.0,780.1 L1389.0,778.9 L1392.0,777.6 L1395.0,776.2 L1398.0,774.7 L1401.0,773.1 L1404.0,771.3 L1407.0,769.5 L1410.0,767.5 L1413.0,765.5 L1416.0,763.3 L1419.0,761.0 L1422.0,758.6 L1425.0,756.1 L1428.0,753.5 L1431.0,750.7 L1434.0,747.8 L1437.0,744.8 L1440.0,741.6 L1443.0,738.4 L1446.0,735.0 L1449.0,731.4 L1452.0,727.8 L1455.0,724.0 L1458.0,720.0 L1461.0,716.0 L1464.0,711.7 L1467.0,707.4 L1470.0,702.9 L1473.0,698.2 L1476.0,693.5 L1479.0,688.5 L1482.0,683.5 L1485.0,678.3 L1488.0,673.1 L1491.0,667.7 L1494.0,662.2 L1497.0,656.6 L1500.0,650.9 L1503.0,645.2 L1506.0,639.4 L1509.0,633.4 L1512.0,627.5 L1515.0,621.4 L1518.0,615.3 L1521.0,609.2 L1524.0,603.0 L1527.0,596.8 L1530.0,590.5 L1533.0,584.2 L1536.0,577.9 L1539.0,571.6 L1542.0,565.3 L1545.0,558.9 L1548.0,552.6 L1551.0,546.3 L1554.0,540.0 L1557.0,533.7 L1560.0,527.4 L1563.0,521.2 L1566.0,515.0 L1569.0,508.8 L1572.0,502.6 L1575.0,496.5 L1578.0,490.3 L1581.0,484.2 L1584.0,478.0 L1587.0,471.9 L1590.0,465.8 L1593.0,459.6 L1596.0,453.4 L1599.0,447.2 L1602.0,441.0 L1605.0,434.8 L1608.0,428.5 L1611.0,422.2 L1614.0,415.9 L1617.0,409.5 L1620.0,403.1 L1623.0,396.7 L1626.0,390.2 L1629.0,383.7 L1632.0,377.1 L1635.0,370.6 L1638.0,364.0 L1641.0,357.4 L1644.0,350.9 L1647.0,344.3 L1650.0,337.7 L1653.0,331.2 L1656.0,324.6 L1659.0,318.1 L1662.0,311.7 L1665.0,305.2 L1668.0,298.8 L1671.0,292.4 L1674.0,286.1 L1677.0,279.8 L1680.0,273.6 L1683.0,267.4 L1686.0,261.3 L1689.0,255.3 L1692.0,249.4 L1695.0,243.5 L1698.0,237.7 L1701.0,232.0 L1704.0,226.5 L1707.0,221.0 L1710.0,215.6 L1713.0,210.3 L1716.0,205.1 L1719.0,200.0 L1722.0,195.0 L1725.0,190.0 L1728.0,185.1 L1731.0,180.2 L1734.0,175.4 L1737.0,170.6 L1740.0,165.8 L1743.0,161.0 L1746.0,156.3 L1749.0,151.5 L1752.0,146.7 L1755.0,141.8 L1758.0,137.0 L1761.0,132.1 L1764.0,127.1 L1767.0,122.2 L1770.0,117.3 L1773.0,112.4 L1776.0,107.7 L1779.0,103.0 L1782.0,98.4 L1785.0,94.0 L1788.0,89.7 L1791.0,85.6 L1794.0,81.6 L1797.0,77.8 L1800.0,74.2 L1803.0,70.7 L1806.0,67.4 L1809.0,64.2 L1812.0,61.3 L1815.0,58.5 L1818.0,55.8 L1821.0,53.4 L1824.0,51.2 L1827.0,49.1 L1830.0,47.2 L1833.0,45.5 L1836.0,44.0 L1839.0,42.7 L1842.0,41.6 L1845.0,40.7 L1848.0,40.0 L1851.0,39.5 L1854.0,39.3 L1857.0,39.2 L1860.0,39.4 L1863.0,39.7 L1866.0,40.4 L1869.0,41.2 L1872.0,42.3 L1875.0,43.6 L1878.0,45.1 L1881.0,46.9 L1884.0,49.0 L1887.0,51.3 L1890.0,53.8 L1893.0,56.6 L1896.0,59.6 L1899.0,62.8 L1902.0,66.2 L1905.0,69.9 L1908.0,73.7 L1911.0,77.7 L1914.0,82.0 L1917.0,86.4 L1920.0,91.0 L1923.0,95.8 L1926.0,100.7 L1929.0,105.8 L1932.0,111.1 L1935.0,116.5 L1938.0,122.0 L1941.0,127.7 L1944.0,133.6 L1947.0,139.5 L1950.0,145.6 L1953.0,151.8 L1956.0,158.1 L1959.0,164.6 L1962.0,171.1 L1965.0,177.7 L1968.0,184.4 L1971.0,191.2 L1974.0,198.1 L1977.0,205.0 L1980.0,212.0 L1983.0,219.1 L1986.0,226.2 L1989.0,233.4 L1992.0,240.6 L1995.0,247.8 L1998.0,255.1 L2001.0,262.4 L2004.0,269.8 L2007.0,277.1 L2010.0,284.4 L2013.0,291.7 L2016.0,298.9 L2019.0,306.0 L2022.0,313.1 L2025.0,320.0 L2028.0,326.8 L2031.0,333.5 L2034.0,339.9 L2037.0,346.3 L2040.0,352.4 L2043.0,358.4 L2046.0,364.3 L2049.0,370.1 L2052.0,375.7 L2055.0,381.3 L2058.0,386.7 L2061.0,392.1 L2064.0,397.4 L2067.0,402.7 L2070.0,407.9 L2073.0,413.1 L2076.0,418.3 L2079.0,423.4 L2082.0,428.4 L2085.0,433.5 L2088.0,438.5 L2091.0,443.4 L2094.0,448.3 L2097.0,453.2 L2100.0,458.0 L2103.0,462.8 L2106.0,467.5 L2109.0,472.2 L2112.0,476.8 L2115.0,481.4 L2118.0,486.0 L2121.0,490.4 L2124.0,494.9 L2127.0,499.2 L2130.0,503.6 L2133.0,507.9 L2136.0,512.1 L2139.0,516.3 L2142.0,520.5 L2145.0,524.7 L2148.0,528.9 L2151.0,533.0 L2154.0,537.2 L2157.0,541.4 L2160.0,545.5 L2163.0,549.7 L2166.0,553.9 L2169.0,558.2 L2172.0,562.4 L2175.0,566.8 L2178.0,571.1 L2181.0,575.5 L2184.0,580.0 L2187.0,584.6 L2190.0,589.2 L2193.0,593.8 L2196.0,598.6 L2199.0,603.5 L2202.0,608.4 L2205.0,613.4 L2208.0,618.5 L2211.0,623.7 L2214.0,628.9 L2217.0,634.2 L2220.0,639.5 L2223.0,644.8 L2226.0,650.2 L2229.0,655.5 L2232.0,660.9 L2235.0,666.3 L2238.0,671.6 L2241.0,676.9 L2244.0,682.2 L2247.0,687.4 L2250.0,692.6 L2253.0,697.7 L2256.0,702.8 L2259.0,707.8 L2262.0,712.7 L2265.0,717.5 L2268.0,722.2 L2271.0,726.8 L2274.0,731.3 L2277.0,735.8 L2280.0,740.1 L2283.0,744.2 L2286.0,748.3 L2289.0,752.2 L2292.0,756.0 L2295.0,759.6 L2298.0,763.1 L2301.0,766.4 L2304.0,769.6 L2307.0,772.6 L2310.0,775.4 L2313.0,778.1 L2316.0,780.5 L2319.0,782.8 L2322.0,784.9 L2325.0,786.7 L2328.0,788.4 L2331.0,789.8 L2333.0,790.7" fill="none" stroke="#000" stroke-width="5.5" stroke-linejoin="round" stroke-linecap="round"/>
<text transform="translate(1368.3,145.0) scale(1,1.04)" font-size="110" fill="#000">D</text>
<line x1="1995.5" y1="88" x2="2078.3" y2="88" stroke="#000" stroke-width="5"/>
<text transform="translate(2092.3,106.6) scale(1,1.04)" font-size="53" fill="#000">BA on Co</text>
<text transform="translate(1312.0,72.8) scale(1,1.04)" font-size="54.5" text-anchor="end" fill="#000">1</text>
<text transform="translate(1318.5,216.6) scale(1,1.04)" font-size="54.5" text-anchor="end" fill="#000">0.8</text>
<text transform="translate(1318.5,360.0) scale(1,1.04)" font-size="54.5" text-anchor="end" fill="#000">0.6</text>
<text transform="translate(1318.5,504.0) scale(1,1.04)" font-size="54.5" text-anchor="end" fill="#000">0.4</text>
<text transform="translate(1318.5,647.1) scale(1,1.04)" font-size="54.5" text-anchor="end" fill="#000">0.2</text>
<text transform="translate(1318.5,790.5) scale(1,1.04)" font-size="54.5" text-anchor="end" fill="#000">0</text>
<line x1="1592.0" y1="872.5" x2="1592.0" y2="885.0" stroke="#000" stroke-width="5"/>
<line x1="1592.0" y1="1623.2" x2="1592.0" y2="1610.7" stroke="#000" stroke-width="5"/>
<line x1="1840.0" y1="872.5" x2="1840.0" y2="885.0" stroke="#000" stroke-width="5"/>
<line x1="1840.0" y1="1623.2" x2="1840.0" y2="1610.7" stroke="#000" stroke-width="5"/>
<line x1="2088.0" y1="872.5" x2="2088.0" y2="885.0" stroke="#000" stroke-width="5"/>
<line x1="2088.0" y1="1623.2" x2="2088.0" y2="1610.7" stroke="#000" stroke-width="5"/>
<line x1="1344.0" y1="1473.1" x2="1356.5" y2="1473.1" stroke="#000" stroke-width="5"/>
<line x1="2336.0" y1="1473.1" x2="2323.5" y2="1473.1" stroke="#000" stroke-width="5"/>
<line x1="1344.0" y1="1322.9" x2="1356.5" y2="1322.9" stroke="#000" stroke-width="5"/>
<line x1="2336.0" y1="1322.9" x2="2323.5" y2="1322.9" stroke="#000" stroke-width="5"/>
<line x1="1344.0" y1="1172.8" x2="1356.5" y2="1172.8" stroke="#000" stroke-width="5"/>
<line x1="2336.0" y1="1172.8" x2="2323.5" y2="1172.8" stroke="#000" stroke-width="5"/>
<line x1="1344.0" y1="1022.6" x2="1356.5" y2="1022.6" stroke="#000" stroke-width="5"/>
<line x1="2336.0" y1="1022.6" x2="2323.5" y2="1022.6" stroke="#000" stroke-width="5"/>
<line x1="1341.0" y1="872.5" x2="2339.0" y2="872.5" stroke="#000" stroke-width="6"/>
<line x1="1341.0" y1="1623.2" x2="2339.0" y2="1623.2" stroke="#000" stroke-width="6"/>
<line x1="1344.0" y1="872.5" x2="1344.0" y2="1623.2" stroke="#000" stroke-width="6"/>
<line x1="2336.0" y1="872.5" x2="2336.0" y2="1623.2" stroke="#000" stroke-width="6"/>
<path d="M1346.0,1624.3 L1349.0,1622.5 L1352.0,1620.7 L1355.0,1618.6 L1358.0,1616.5 L1361.0,1614.3 L1364.0,1611.9 L1367.0,1609.5 L1370.0,1606.9 L1373.0,1604.2 L1376.0,1601.5 L1379.0,1598.6 L1382.0,1595.6 L1385.0,1592.5 L1388.0,1589.3 L1391.0,1586.0 L1394.0,1582.7 L1397.0,1579.2 L1400.0,1575.6 L1403.0,1571.9 L1406.0,1568.1 L1409.0,1564.3 L1412.0,1560.3 L1415.0,1556.3 L1418.0,1552.1 L1421.0,1547.9 L1424.0,1543.6 L1427.0,1539.2 L1430.0,1534.7 L1433.0,1530.1 L1436.0,1525.5 L1439.0,1520.7 L1442.0,1515.9 L1445.0,1511.0 L1448.0,1506.0 L1451.0,1500.9 L1454.0,1495.8 L1457.0,1490.6 L1460.0,1485.3 L1463.0,1479.9 L1466.0,1474.5 L1469.0,1469.0 L1472.0,1463.4 L1475.0,1457.7 L1478.0,1452.0 L1481.0,1446.3 L1484.0,1440.4 L1487.0,1434.6 L1490.0,1428.7 L1493.0,1422.7 L1496.0,1416.7 L1499.0,1410.7 L1502.0,1404.6 L1505.0,1398.5 L1508.0,1392.4 L1511.0,1386.3 L1514.0,1380.2 L1517.0,1374.1 L1520.0,1367.9 L1523.0,1361.8 L1526.0,1355.7 L1529.0,1349.6 L1532.0,1343.5 L1535.0,1337.4 L1538.0,1331.3 L1541.0,1325.3 L1544.0,1319.3 L1547.0,1313.4 L1550.0,1307.4 L1553.0,1301.5 L1556.0,1295.6 L1559.0,1289.7 L1562.0,1283.7 L1565.0,1277.8 L1568.0,1271.8 L1571.0,1265.8 L1574.0,1259.7 L1577.0,1253.6 L1580.0,1247.3 L1583.0,1241.0 L1586.0,1234.6 L1589.0,1228.1 L1592.0,1221.5 L1595.0,1214.8 L1598.0,1207.9 L1601.0,1200.9 L1604.0,1193.9 L1607.0,1186.8 L1610.0,1179.6 L1613.0,1172.5 L1616.0,1165.3 L1619.0,1158.2 L1622.0,1151.1 L1625.0,1144.0 L1628.0,1137.1 L1631.0,1130.2 L1634.0,1123.5 L1637.0,1116.9 L1640.0,1110.4 L1643.0,1104.0 L1646.0,1097.7 L1649.0,1091.5 L1652.0,1085.3 L1655.0,1079.2 L1658.0,1073.2 L1661.0,1067.3 L1664.0,1061.4 L1667.0,1055.6 L1670.0,1049.9 L1673.0,1044.2 L1676.0,1038.6 L1679.0,1033.1 L1682.0,1027.6 L1685.0,1022.2 L1688.0,1016.9 L1691.0,1011.6 L1694.0,1006.4 L1697.0,1001.3 L1700.0,996.3 L1703.0,991.3 L1706.0,986.4 L1709.0,981.6 L1712.0,976.9 L1715.0,972.2 L1718.0,967.6 L1721.0,963.1 L1724.0,958.6 L1727.0,954.2 L1730.0,949.9 L1733.0,945.7 L1736.0,941.5 L1739.0,937.5 L1742.0,933.5 L1745.0,929.6 L1748.0,925.7 L1751.0,922.0 L1754.0,918.4 L1757.0,914.8 L1760.0,911.4 L1763.0,908.1 L1766.0,905.0 L1769.0,901.9 L1772.0,899.0 L1775.0,896.2 L1778.0,893.6 L1781.0,891.1 L1784.0,888.8 L1787.0,886.7 L1790.0,884.7 L1793.0,882.8 L1796.0,881.2 L1799.0,879.7 L1802.0,878.5 L1805.0,877.4 L1808.0,876.5 L1811.0,875.9 L1814.0,875.4 L1817.0,875.2 L1820.0,875.2 L1823.0,875.4 L1826.0,875.9 L1829.0,876.6 L1832.0,877.5 L1835.0,878.7 L1838.0,880.1 L1841.0,881.8 L1844.0,883.8 L1847.0,886.0 L1850.0,888.5 L1853.0,891.1 L1856.0,894.0 L1859.0,897.1 L1862.0,900.4 L1865.0,903.9 L1868.0,907.6 L1871.0,911.4 L1874.0,915.4 L1877.0,919.6 L1880.0,923.9 L1883.0,928.4 L1886.0,932.9 L1889.0,937.6 L1892.0,942.4 L1895.0,947.4 L1898.0,952.4 L1901.0,957.4 L1904.0,962.6 L1907.0,967.8 L1910.0,973.1 L1913.0,978.5 L1916.0,983.9 L1919.0,989.3 L1922.0,994.8 L1925.0,1000.4 L1928.0,1006.0 L1931.0,1011.6 L1934.0,1017.3 L1937.0,1023.0 L1940.0,1028.8 L1943.0,1034.6 L1946.0,1040.4 L1949.0,1046.2 L1952.0,1052.0 L1955.0,1057.9 L1958.0,1063.8 L1961.0,1069.7 L1964.0,1075.6 L1967.0,1081.5 L1970.0,1087.6 L1973.0,1093.7 L1976.0,1099.9 L1979.0,1106.2 L1982.0,1112.6 L1985.0,1119.2 L1988.0,1125.9 L1991.0,1132.6 L1994.0,1139.4 L1997.0,1146.3 L2000.0,1153.1 L2003.0,1160.0 L2006.0,1166.8 L2009.0,1173.6 L2012.0,1180.3 L2015.0,1186.8 L2018.0,1193.3 L2021.0,1199.7 L2024.0,1206.1 L2027.0,1212.5 L2030.0,1218.9 L2033.0,1225.4 L2036.0,1232.0 L2039.0,1238.7 L2042.0,1245.7 L2045.0,1252.9 L2048.0,1260.2 L2051.0,1267.6 L2054.0,1275.1 L2057.0,1282.7 L2060.0,1290.2 L2063.0,1297.8 L2066.0,1305.4 L2069.0,1312.8 L2072.0,1320.2 L2075.0,1327.4 L2078.0,1334.5 L2081.0,1341.3 L2084.0,1348.0 L2087.0,1354.4 L2090.0,1360.6 L2093.0,1366.6 L2096.0,1372.4 L2099.0,1378.1 L2102.0,1383.6 L2105.0,1389.1 L2108.0,1394.4 L2111.0,1399.6 L2114.0,1404.8 L2117.0,1409.9 L2120.0,1414.9 L2123.0,1420.0 L2126.0,1425.1 L2129.0,1430.2 L2132.0,1435.3 L2135.0,1440.5 L2138.0,1445.7 L2141.0,1450.9 L2144.0,1456.2 L2147.0,1461.6 L2150.0,1466.9 L2153.0,1472.2 L2156.0,1477.6 L2159.0,1482.9 L2162.0,1488.3 L2165.0,1493.6 L2168.0,1498.9 L2171.0,1504.1 L2174.0,1509.4 L2177.0,1514.5 L2180.0,1519.6 L2183.0,1524.7 L2186.0,1529.7 L2189.0,1534.5 L2192.0,1539.4 L2195.0,1544.1 L2198.0,1548.7 L2201.0,1553.2 L2204.0,1557.6 L2207.0,1561.8 L2210.0,1566.0 L2213.0,1570.0 L2216.0,1573.8 L2219.0,1577.5 L2222.0,1581.0 L2225.0,1584.4 L2228.0,1587.7 L2231.0,1590.7 L2234.0,1593.7 L2237.0,1596.5 L2240.0,1599.1 L2243.0,1601.6 L2246.0,1603.9 L2249.0,1606.1 L2252.0,1608.1 L2255.0,1609.9 L2258.0,1611.6 L2261.0,1613.2 L2264.0,1614.6 L2267.0,1615.8 L2270.0,1616.9 L2273.0,1617.8 L2276.0,1618.6 L2279.0,1619.2 L2282.0,1619.7 L2285.0,1619.9 L2288.0,1620.1 L2291.0,1620.1 L2294.0,1619.9 L2297.0,1619.6 L2300.0,1619.3 L2303.0,1618.8 L2306.0,1618.4 L2309.0,1617.9 L2312.0,1617.4 L2315.0,1617.0 L2318.0,1616.6 L2321.0,1616.3 L2324.0,1616.1 L2327.0,1616.1 L2330.0,1616.2 L2333.0,1616.5 L2336.0,1617.0" fill="none" stroke="#000" stroke-width="5.5" stroke-linejoin="round" stroke-linecap="round"/>
<text transform="translate(1364.7,979.5) scale(1,1.04)" font-size="110" fill="#000">E</text>
<line x1="1967.9" y1="929" x2="2059.1" y2="929" stroke="#000" stroke-width="5"/>
<text transform="translate(2070.2,940.5) scale(1,1.04)" font-size="53" fill="#000">TBA on Co</text>
<text transform="translate(1312.0,914.7) scale(1,1.04)" font-size="54.5" text-anchor="end" fill="#000">1</text>
<text transform="translate(1318.5,1036.5) scale(1,1.04)" font-size="54.5" text-anchor="end" fill="#000">0.8</text>
<text transform="translate(1318.5,1188.1) scale(1,1.04)" font-size="54.5" text-anchor="end" fill="#000">0.6</text>
<text transform="translate(1318.5,1337.7) scale(1,1.04)" font-size="54.5" text-anchor="end" fill="#000">0.4</text>
<text transform="translate(1318.5,1486.6) scale(1,1.04)" font-size="54.5" text-anchor="end" fill="#000">0.2</text>
<text transform="translate(1318.5,1630.3) scale(1,1.04)" font-size="54.5" text-anchor="end" fill="#000">0</text>
<line x1="1592.0" y1="1703.6" x2="1592.0" y2="1716.1" stroke="#000" stroke-width="5"/>
<line x1="1592.0" y1="2453.8" x2="1592.0" y2="2441.3" stroke="#000" stroke-width="5"/>
<line x1="1840.0" y1="1703.6" x2="1840.0" y2="1716.1" stroke="#000" stroke-width="5"/>
<line x1="1840.0" y1="2453.8" x2="1840.0" y2="2441.3" stroke="#000" stroke-width="5"/>
<line x1="2088.0" y1="1703.6" x2="2088.0" y2="1716.1" stroke="#000" stroke-width="5"/>
<line x1="2088.0" y1="2453.8" x2="2088.0" y2="2441.3" stroke="#000" stroke-width="5"/>
<line x1="1344.0" y1="2303.8" x2="1356.5" y2="2303.8" stroke="#000" stroke-width="5"/>
<line x1="2336.0" y1="2303.8" x2="2323.5" y2="2303.8" stroke="#000" stroke-width="5"/>
<line x1="1344.0" y1="2153.7" x2="1356.5" y2="2153.7" stroke="#000" stroke-width="5"/>
<line x1="2336.0" y1="2153.7" x2="2323.5" y2="2153.7" stroke="#000" stroke-width="5"/>
<line x1="1344.0" y1="2003.7" x2="1356.5" y2="2003.7" stroke="#000" stroke-width="5"/>
<line x1="2336.0" y1="2003.7" x2="2323.5" y2="2003.7" stroke="#000" stroke-width="5"/>
<line x1="1344.0" y1="1853.6" x2="1356.5" y2="1853.6" stroke="#000" stroke-width="5"/>
<line x1="2336.0" y1="1853.6" x2="2323.5" y2="1853.6" stroke="#000" stroke-width="5"/>
<line x1="1341.0" y1="1703.6" x2="2339.0" y2="1703.6" stroke="#000" stroke-width="6"/>
<line x1="1341.0" y1="2453.8" x2="2339.0" y2="2453.8" stroke="#000" stroke-width="6"/>
<line x1="1344.0" y1="1703.6" x2="1344.0" y2="2453.8" stroke="#000" stroke-width="6"/>
<line x1="2336.0" y1="1703.6" x2="2336.0" y2="2453.8" stroke="#000" stroke-width="6"/>
<path d="M1345.0,2450.3 L1348.0,2449.8 L1351.0,2449.5 L1354.0,2449.4 L1357.0,2449.5 L1360.0,2449.8 L1363.0,2450.3 L1366.0,2450.8 L1369.0,2451.4 L1372.0,2452.0 L1375.0,2452.7 L1378.0,2453.3 L1381.0,2453.8 L1384.0,2454.2 L1387.0,2454.5 L1390.0,2454.6 L1393.0,2454.6 L1396.0,2454.3 L1399.0,2453.9 L1402.0,2453.3 L1405.0,2452.5 L1408.0,2451.5 L1411.0,2450.4 L1414.0,2449.1 L1417.0,2447.7 L1420.0,2446.1 L1423.0,2444.3 L1426.0,2442.5 L1429.0,2440.5 L1432.0,2438.4 L1435.0,2436.2 L1438.0,2433.8 L1441.0,2431.2 L1444.0,2428.6 L1447.0,2425.7 L1450.0,2422.7 L1453.0,2419.5 L1456.0,2416.1 L1459.0,2412.5 L1462.0,2408.7 L1465.0,2404.7 L1468.0,2400.5 L1471.0,2396.0 L1474.0,2391.2 L1477.0,2386.3 L1480.0,2381.0 L1483.0,2375.5 L1486.0,2369.7 L1489.0,2363.6 L1492.0,2357.3 L1495.0,2350.6 L1498.0,2343.7 L1501.0,2336.5 L1504.0,2329.0 L1507.0,2321.4 L1510.0,2313.5 L1513.0,2305.3 L1516.0,2297.0 L1519.0,2288.6 L1522.0,2279.9 L1525.0,2271.1 L1528.0,2262.2 L1531.0,2253.1 L1534.0,2243.9 L1537.0,2234.6 L1540.0,2225.2 L1543.0,2215.8 L1546.0,2206.3 L1549.0,2196.7 L1552.0,2187.1 L1555.0,2177.5 L1558.0,2168.0 L1561.0,2158.5 L1564.0,2149.2 L1567.0,2140.0 L1570.0,2131.0 L1573.0,2122.2 L1576.0,2113.6 L1579.0,2105.3 L1582.0,2097.3 L1585.0,2089.6 L1588.0,2082.2 L1591.0,2074.8 L1594.0,2067.5 L1597.0,2060.2 L1600.0,2052.7 L1603.0,2045.0 L1606.0,2037.1 L1609.0,2029.1 L1612.0,2021.1 L1615.0,2013.0 L1618.0,2005.0 L1621.0,1997.0 L1624.0,1989.1 L1627.0,1981.4 L1630.0,1973.8 L1633.0,1966.5 L1636.0,1959.4 L1639.0,1952.7 L1642.0,1946.2 L1645.0,1939.9 L1648.0,1933.7 L1651.0,1927.7 L1654.0,1921.8 L1657.0,1915.9 L1660.0,1910.1 L1663.0,1904.4 L1666.0,1898.7 L1669.0,1893.1 L1672.0,1887.5 L1675.0,1882.0 L1678.0,1876.5 L1681.0,1871.1 L1684.0,1865.7 L1687.0,1860.3 L1690.0,1854.9 L1693.0,1849.5 L1696.0,1844.2 L1699.0,1838.8 L1702.0,1833.5 L1705.0,1828.1 L1708.0,1822.8 L1711.0,1817.4 L1714.0,1812.0 L1717.0,1806.6 L1720.0,1801.3 L1723.0,1796.0 L1726.0,1790.7 L1729.0,1785.6 L1732.0,1780.4 L1735.0,1775.4 L1738.0,1770.5 L1741.0,1765.7 L1744.0,1761.1 L1747.0,1756.5 L1750.0,1752.2 L1753.0,1748.0 L1756.0,1744.0 L1759.0,1740.2 L1762.0,1736.6 L1765.0,1733.3 L1768.0,1730.2 L1771.0,1727.3 L1774.0,1724.6 L1777.0,1722.2 L1780.0,1719.9 L1783.0,1717.9 L1786.0,1716.1 L1789.0,1714.4 L1792.0,1713.0 L1795.0,1711.7 L1798.0,1710.5 L1801.0,1709.6 L1804.0,1708.7 L1807.0,1708.0 L1810.0,1707.5 L1813.0,1707.0 L1816.0,1706.7 L1819.0,1706.5 L1822.0,1706.4 L1825.0,1706.3 L1828.0,1706.4 L1831.0,1706.6 L1834.0,1706.8 L1837.0,1707.2 L1840.0,1707.6 L1843.0,1708.2 L1846.0,1708.9 L1849.0,1709.7 L1852.0,1710.6 L1855.0,1711.7 L1858.0,1712.9 L1861.0,1714.2 L1864.0,1715.6 L1867.0,1717.3 L1870.0,1719.0 L1873.0,1720.9 L1876.0,1722.9 L1879.0,1725.0 L1882.0,1727.3 L1885.0,1729.5 L1888.0,1731.9 L1891.0,1734.2 L1894.0,1736.6 L1897.0,1739.0 L1900.0,1741.3 L1903.0,1743.7 L1906.0,1745.9 L1909.0,1748.1 L1912.0,1750.2 L1915.0,1752.2 L1918.0,1754.1 L1921.0,1755.8 L1924.0,1757.6 L1927.0,1759.2 L1930.0,1760.8 L1933.0,1762.4 L1936.0,1764.0 L1939.0,1765.6 L1942.0,1767.2 L1945.0,1768.9 L1948.0,1770.7 L1951.0,1772.5 L1954.0,1774.4 L1957.0,1776.5 L1960.0,1778.7 L1963.0,1781.1 L1966.0,1783.6 L1969.0,1786.3 L1972.0,1789.2 L1975.0,1792.4 L1978.0,1795.8 L1981.0,1799.5 L1984.0,1803.4 L1987.0,1807.6 L1990.0,1812.1 L1993.0,1816.8 L1996.0,1821.8 L1999.0,1827.1 L2002.0,1832.6 L2005.0,1838.3 L2008.0,1844.4 L2011.0,1850.7 L2014.0,1857.2 L2017.0,1864.0 L2020.0,1871.1 L2023.0,1878.4 L2026.0,1886.0 L2029.0,1893.9 L2032.0,1902.0 L2035.0,1910.3 L2038.0,1919.0 L2041.0,1927.9 L2044.0,1937.1 L2047.0,1946.6 L2050.0,1956.4 L2053.0,1966.4 L2056.0,1976.4 L2059.0,1986.2 L2062.0,1995.7 L2065.0,2004.8 L2068.0,2013.6 L2071.0,2022.1 L2074.0,2030.5 L2077.0,2038.8 L2080.0,2047.1 L2083.0,2055.4 L2086.0,2063.8 L2089.0,2072.2 L2092.0,2080.8 L2095.0,2089.3 L2098.0,2097.7 L2101.0,2106.0 L2104.0,2114.1 L2107.0,2122.0 L2110.0,2129.6 L2113.0,2137.0 L2116.0,2144.2 L2119.0,2151.2 L2122.0,2158.1 L2125.0,2164.7 L2128.0,2171.2 L2131.0,2177.6 L2134.0,2183.9 L2137.0,2190.0 L2140.0,2196.1 L2143.0,2202.1 L2146.0,2208.0 L2149.0,2213.8 L2152.0,2219.7 L2155.0,2225.5 L2158.0,2231.2 L2161.0,2236.9 L2164.0,2242.6 L2167.0,2248.1 L2170.0,2253.6 L2173.0,2258.9 L2176.0,2264.1 L2179.0,2269.1 L2182.0,2274.0 L2185.0,2278.7 L2188.0,2283.2 L2191.0,2287.7 L2194.0,2291.9 L2197.0,2296.1 L2200.0,2300.1 L2203.0,2304.0 L2206.0,2307.8 L2209.0,2311.5 L2212.0,2315.2 L2215.0,2318.7 L2218.0,2322.2 L2221.0,2325.7 L2224.0,2329.1 L2227.0,2332.4 L2230.0,2335.7 L2233.0,2339.0 L2236.0,2342.2 L2239.0,2345.5 L2242.0,2348.8 L2245.0,2352.0 L2248.0,2355.3 L2251.0,2358.6 L2254.0,2362.0 L2257.0,2365.4 L2260.0,2368.8 L2263.0,2372.3 L2266.0,2375.9 L2269.0,2379.5 L2272.0,2383.3 L2275.0,2387.0 L2278.0,2390.9 L2281.0,2394.7 L2284.0,2398.6 L2287.0,2402.5 L2290.0,2406.4 L2293.0,2410.3 L2296.0,2414.2 L2299.0,2418.0 L2302.0,2421.8 L2305.0,2425.6 L2308.0,2429.3 L2311.0,2432.9 L2314.0,2436.5 L2317.0,2440.0 L2320.0,2443.3 L2323.0,2446.6 L2326.0,2449.7 L2329.0,2452.3 L2332.0,2454.0 L2334.0,2454.5" fill="none" stroke="#000" stroke-width="5.5" stroke-linejoin="round" stroke-linecap="round"/>
<text transform="translate(1366.2,1809.5) scale(1,1.04)" font-size="110" fill="#000">F</text>
<line x1="1941" y1="1753.2" x2="2031" y2="1753.2" stroke="#000" stroke-width="5"/>
<text transform="translate(2037.7,1773.5) scale(1,1.04)" font-size="53" fill="#000">BTBA on Co</text>
<text transform="translate(1312.0,1752.8) scale(1,1.04)" font-size="54.5" text-anchor="end" fill="#000">1</text>
<text transform="translate(1318.5,1871.3) scale(1,1.04)" font-size="54.5" text-anchor="end" fill="#000">0.8</text>
<text transform="translate(1318.5,2017.8) scale(1,1.04)" font-size="54.5" text-anchor="end" fill="#000">0.6</text>
<text transform="translate(1318.5,2169.8) scale(1,1.04)" font-size="54.5" text-anchor="end" fill="#000">0.4</text>
<text transform="translate(1318.5,2318.4) scale(1,1.04)" font-size="54.5" text-anchor="end" fill="#000">0.2</text>
<text transform="translate(1318.5,2465.3) scale(1,1.04)" font-size="54.5" text-anchor="end" fill="#000">0</text>
<text transform="translate(1224.0,746.5) rotate(-90) scale(1,1.04)" font-size="55" fill="#000">Normalized Intensity (a.u.)</text>
<text transform="translate(1226.0,1581.5) rotate(-90) scale(1,1.04)" font-size="55" fill="#000">Normalized Intensity (a.u.)</text>
<text transform="translate(1225.7,2412.2) rotate(-90) scale(1,1.04)" font-size="55" fill="#000">Normalized Intensity (a.u.)</text>
<text transform="translate(1349.8,2523.0) scale(1,1.04)" font-size="54.5" text-anchor="middle" fill="#000">1500</text>
<text transform="translate(1595.8,2523.0) scale(1,1.04)" font-size="54.5" text-anchor="middle" fill="#000">1550</text>
<text transform="translate(1841.8,2523.0) scale(1,1.04)" font-size="54.5" text-anchor="middle" fill="#000">1600</text>
<text transform="translate(2088.5,2523.0) scale(1,1.04)" font-size="54.5" text-anchor="middle" fill="#000">1650</text>
<text transform="translate(2334.2,2523.0) scale(1,1.04)" font-size="54.5" text-anchor="middle" fill="#000">1700</text>
<text transform="translate(1588.6,2605.2) scale(1,1.04)" font-size="54.8" fill="#000">Wavenumber(cm</text>
<text transform="translate(1997.0,2575.5) scale(1,1.04)" font-size="54.8" fill="#000">-1</text>
<text transform="translate(2043.7,2605.2) scale(1,1.04)" font-size="54.8" fill="#000">)</text>
</svg>
</body></html>
